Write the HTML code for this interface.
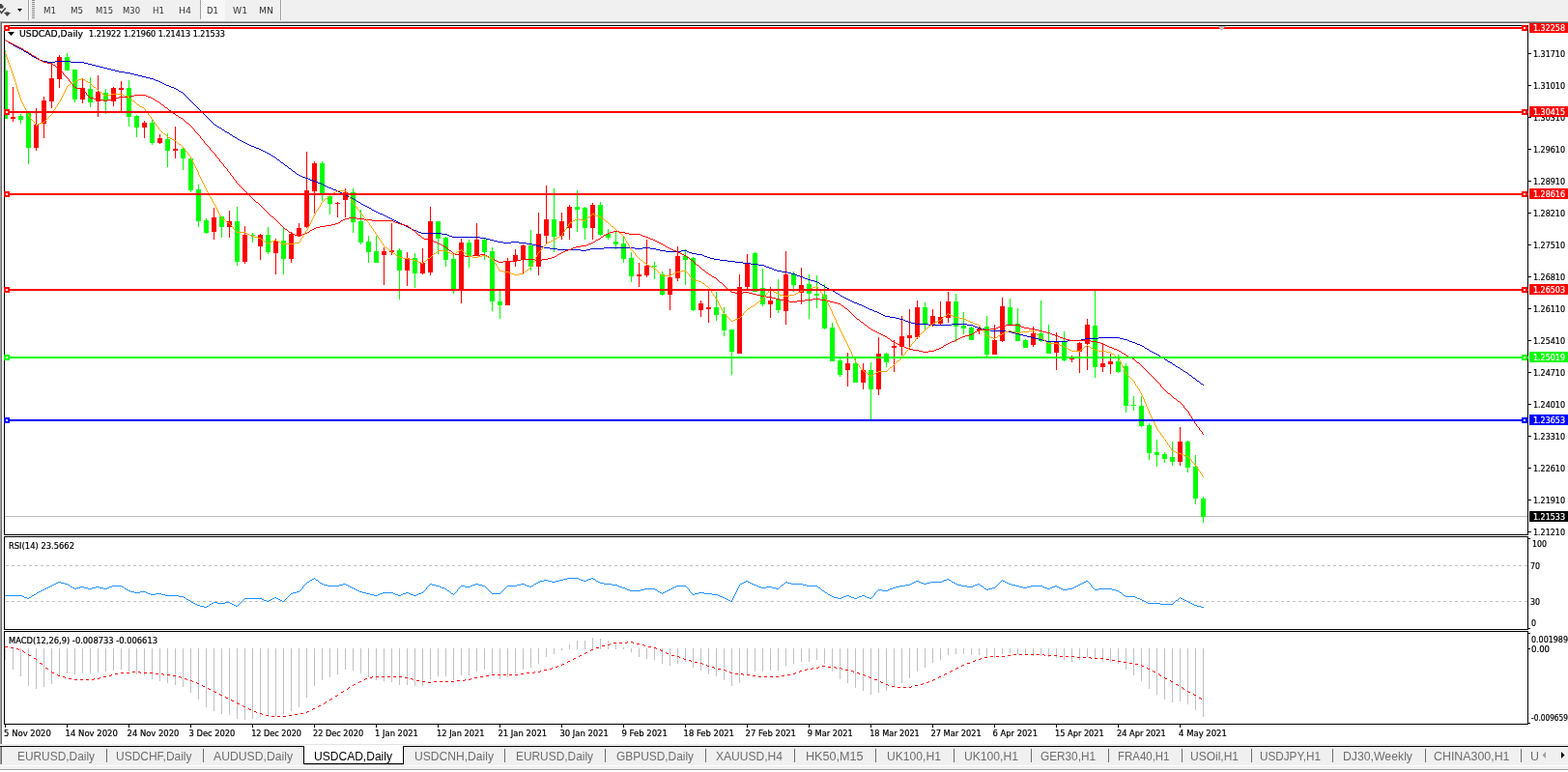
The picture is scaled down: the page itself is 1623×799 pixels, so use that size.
<!DOCTYPE html>
<html><head><meta charset="utf-8"><title>USDCAD,Daily</title>
<style>
html,body{margin:0;padding:0;background:#fff;}
body{width:1623px;height:799px;overflow:hidden;position:relative;font-family:'Liberation Sans', Arial, sans-serif;}
svg{position:absolute;left:0;top:0;display:block;}
svg text{font-family:'Liberation Sans', Arial, sans-serif;}
svg text.ax,svg text.tb{font-family:'DejaVu Sans',sans-serif;font-stretch:condensed;font-size:9.5px;}
</style></head><body>
<svg width="1623" height="799" viewBox="0 0 1623 799">
<defs>
<pattern id="dith" x="0" y="0" width="2" height="2" patternUnits="userSpaceOnUse"><rect width="2" height="2" fill="#f0f0f0"/><rect width="1" height="1" fill="#fff"/><rect x="1" y="1" width="1" height="1" fill="#fff"/></pattern>
<clipPath id="cMain"><rect x="5" y="27" width="1576" height="526"/></clipPath>
<clipPath id="cRsi"><rect x="5" y="556" width="1576" height="95"/></clipPath>
<clipPath id="cMacd"><rect x="5" y="654" width="1576" height="95"/></clipPath>
</defs>

<g shape-rendering="crispEdges">
<rect x="0" y="0" width="1623" height="21" fill="#f0f0f0"/>
<rect x="0" y="21" width="1623" height="1" fill="#f8f8f8"/>
<rect x="0" y="22" width="1623" height="1" fill="#a0a0a0"/>
<rect x="0" y="23" width="1623" height="1" fill="#696969"/>
<rect x="29" y="0" width="1" height="21" fill="#a0a0a0"/>
<rect x="30" y="0" width="1" height="21" fill="#ffffff"/>
<rect x="290" y="0" width="1" height="21" fill="#a0a0a0"/>
<rect x="291" y="0" width="1" height="21" fill="#ffffff"/>
<rect x="33" y="0" width="3" height="1" fill="#8a8a8a"/>
<rect x="33" y="2" width="3" height="1" fill="#8a8a8a"/>
<rect x="33" y="4" width="3" height="1" fill="#8a8a8a"/>
<rect x="33" y="6" width="3" height="1" fill="#8a8a8a"/>
<rect x="33" y="8" width="3" height="1" fill="#8a8a8a"/>
<rect x="33" y="10" width="3" height="1" fill="#8a8a8a"/>
<rect x="33" y="12" width="3" height="1" fill="#8a8a8a"/>
<rect x="33" y="14" width="3" height="1" fill="#8a8a8a"/>
<rect x="33" y="16" width="3" height="1" fill="#8a8a8a"/>
<rect x="33" y="18" width="3" height="1" fill="#8a8a8a"/>
<rect x="208" y="0" width="25" height="20" fill="url(#dith)"/>
<rect x="207" y="0" width="1" height="20" fill="#a0a0a0"/>
<rect x="207" y="20" width="26" height="1" fill="#ffffff"/>
</g>
<path d="M0,4 L1.5,4 L4,7 L2.5,8.8 L0,8.8 Z" fill="#444"/>
<path d="M0,11.2 L1.5,13.5 L5.8,8.3" fill="none" stroke="#444" stroke-width="1.5"/>
<path d="M4,13 L6.2,13 L6.2,12.3 L8.8,12.3 L8.8,13 L11,13 L7.5,17 Z" fill="#444"/>
<path d="M18,9 L23,9 L20.5,12 Z" fill="#000"/>
<text x="45" y="14" class="tb" fill="#333" textLength="13" lengthAdjust="spacingAndGlyphs">M1</text>
<text x="73" y="14" class="tb" fill="#333" textLength="13" lengthAdjust="spacingAndGlyphs">M5</text>
<text x="99" y="14" class="tb" fill="#333" textLength="18" lengthAdjust="spacingAndGlyphs">M15</text>
<text x="127" y="14" class="tb" fill="#333" textLength="18" lengthAdjust="spacingAndGlyphs">M30</text>
<text x="158" y="14" class="tb" fill="#333" textLength="12" lengthAdjust="spacingAndGlyphs">H1</text>
<text x="185" y="14" class="tb" fill="#333" textLength="13" lengthAdjust="spacingAndGlyphs">H4</text>
<text x="214" y="14" class="tb" fill="#333" textLength="12" lengthAdjust="spacingAndGlyphs">D1</text>
<text x="241" y="14" class="tb" fill="#333" textLength="15" lengthAdjust="spacingAndGlyphs">W1</text>
<text x="268" y="14" class="tb" fill="#333" textLength="15" lengthAdjust="spacingAndGlyphs">MN</text>
<g shape-rendering="crispEdges">
<rect x="0" y="22" width="1" height="748" fill="#a0a0a0"/>
<rect x="1" y="23" width="1" height="747" fill="#696969"/>
<rect x="4" y="26" width="1578" height="1" fill="#000"/>
<rect x="4" y="553" width="1578" height="1" fill="#000"/>
<rect x="4" y="26" width="1" height="528" fill="#000"/>
<rect x="1581" y="26" width="1" height="528" fill="#000"/>
<rect x="4" y="555" width="1578" height="1" fill="#000"/>
<rect x="4" y="651" width="1578" height="1" fill="#000"/>
<rect x="4" y="555" width="1" height="97" fill="#000"/>
<rect x="1581" y="555" width="1" height="97" fill="#000"/>
<rect x="4" y="653" width="1578" height="1" fill="#000"/>
<rect x="4" y="749" width="1578" height="1" fill="#000"/>
<rect x="4" y="653" width="1" height="97" fill="#000"/>
<rect x="1581" y="653" width="1" height="97" fill="#000"/>
</g>
<g clip-path="url(#cMain)">
<g shape-rendering="crispEdges">
<rect x="5" y="534" width="1576" height="1" fill="#c0c0c0"/>
</g>
<g shape-rendering="crispEdges">
<rect x="5" y="52" width="1" height="71" fill="#00ff00"/>
<rect x="3" y="73" width="5" height="50" fill="#00ff00"/>
<rect x="13" y="90" width="1" height="36" fill="#ff0000"/>
<rect x="11" y="121" width="5" height="2" fill="#ff0000"/>
<rect x="21" y="118" width="1" height="10" fill="#00ff00"/>
<rect x="19" y="120" width="5" height="4" fill="#00ff00"/>
<rect x="29" y="115" width="1" height="55" fill="#00ff00"/>
<rect x="27" y="117" width="5" height="36" fill="#00ff00"/>
<rect x="37" y="112" width="1" height="44" fill="#ff0000"/>
<rect x="35" y="129" width="5" height="24" fill="#ff0000"/>
<rect x="45" y="100" width="1" height="43" fill="#ff0000"/>
<rect x="43" y="104" width="5" height="24" fill="#ff0000"/>
<rect x="53" y="66" width="1" height="46" fill="#ff0000"/>
<rect x="51" y="81" width="5" height="24" fill="#ff0000"/>
<rect x="61" y="57" width="1" height="34" fill="#ff0000"/>
<rect x="59" y="59" width="5" height="23" fill="#ff0000"/>
<rect x="69" y="55" width="1" height="18" fill="#00ff00"/>
<rect x="67" y="59" width="5" height="14" fill="#00ff00"/>
<rect x="77" y="72" width="1" height="34" fill="#00ff00"/>
<rect x="75" y="72" width="5" height="31" fill="#00ff00"/>
<rect x="85" y="82" width="1" height="25" fill="#ff0000"/>
<rect x="83" y="91" width="5" height="12" fill="#ff0000"/>
<rect x="93" y="80" width="1" height="31" fill="#00ff00"/>
<rect x="91" y="92" width="5" height="14" fill="#00ff00"/>
<rect x="101" y="78" width="1" height="43" fill="#ff0000"/>
<rect x="99" y="95" width="5" height="10" fill="#ff0000"/>
<rect x="109" y="92" width="1" height="26" fill="#00ff00"/>
<rect x="107" y="96" width="5" height="8" fill="#00ff00"/>
<rect x="117" y="90" width="1" height="20" fill="#ff0000"/>
<rect x="115" y="91" width="5" height="14" fill="#ff0000"/>
<rect x="125" y="84" width="1" height="32" fill="#ff0000"/>
<rect x="123" y="91" width="5" height="2" fill="#ff0000"/>
<rect x="133" y="83" width="1" height="48" fill="#00ff00"/>
<rect x="131" y="91" width="5" height="30" fill="#00ff00"/>
<rect x="141" y="119" width="1" height="23" fill="#00ff00"/>
<rect x="139" y="120" width="5" height="12" fill="#00ff00"/>
<rect x="149" y="125" width="1" height="18" fill="#ff0000"/>
<rect x="147" y="127" width="5" height="5" fill="#ff0000"/>
<rect x="157" y="124" width="1" height="26" fill="#00ff00"/>
<rect x="155" y="127" width="5" height="21" fill="#00ff00"/>
<rect x="165" y="139" width="1" height="10" fill="#ff0000"/>
<rect x="163" y="143" width="5" height="5" fill="#ff0000"/>
<rect x="173" y="138" width="1" height="35" fill="#00ff00"/>
<rect x="171" y="144" width="5" height="12" fill="#00ff00"/>
<rect x="181" y="131" width="1" height="33" fill="#ff0000"/>
<rect x="179" y="154" width="5" height="2" fill="#ff0000"/>
<rect x="189" y="153" width="1" height="23" fill="#00ff00"/>
<rect x="187" y="154" width="5" height="10" fill="#00ff00"/>
<rect x="197" y="164" width="1" height="35" fill="#00ff00"/>
<rect x="195" y="164" width="5" height="33" fill="#00ff00"/>
<rect x="205" y="191" width="1" height="44" fill="#00ff00"/>
<rect x="203" y="196" width="5" height="33" fill="#00ff00"/>
<rect x="213" y="226" width="1" height="16" fill="#00ff00"/>
<rect x="211" y="228" width="5" height="13" fill="#00ff00"/>
<rect x="221" y="215" width="1" height="33" fill="#ff0000"/>
<rect x="219" y="225" width="5" height="15" fill="#ff0000"/>
<rect x="229" y="224" width="1" height="22" fill="#00ff00"/>
<rect x="227" y="224" width="5" height="11" fill="#00ff00"/>
<rect x="237" y="218" width="1" height="28" fill="#ff0000"/>
<rect x="235" y="229" width="5" height="6" fill="#ff0000"/>
<rect x="245" y="214" width="1" height="61" fill="#00ff00"/>
<rect x="243" y="229" width="5" height="42" fill="#00ff00"/>
<rect x="253" y="234" width="1" height="39" fill="#ff0000"/>
<rect x="251" y="243" width="5" height="28" fill="#ff0000"/>
<rect x="261" y="241" width="1" height="10" fill="#00ff00"/>
<rect x="259" y="243" width="5" height="1" fill="#00ff00"/>
<rect x="269" y="242" width="1" height="27" fill="#ff0000"/>
<rect x="267" y="243" width="5" height="12" fill="#ff0000"/>
<rect x="277" y="235" width="1" height="28" fill="#00ff00"/>
<rect x="275" y="243" width="5" height="18" fill="#00ff00"/>
<rect x="285" y="247" width="1" height="37" fill="#ff0000"/>
<rect x="283" y="249" width="5" height="13" fill="#ff0000"/>
<rect x="293" y="236" width="1" height="48" fill="#00ff00"/>
<rect x="291" y="249" width="5" height="19" fill="#00ff00"/>
<rect x="301" y="240" width="1" height="32" fill="#ff0000"/>
<rect x="299" y="242" width="5" height="26" fill="#ff0000"/>
<rect x="309" y="231" width="1" height="14" fill="#ff0000"/>
<rect x="307" y="236" width="5" height="8" fill="#ff0000"/>
<rect x="317" y="157" width="1" height="79" fill="#ff0000"/>
<rect x="315" y="197" width="5" height="38" fill="#ff0000"/>
<rect x="325" y="167" width="1" height="54" fill="#ff0000"/>
<rect x="323" y="169" width="5" height="29" fill="#ff0000"/>
<rect x="333" y="167" width="1" height="41" fill="#00ff00"/>
<rect x="331" y="169" width="5" height="31" fill="#00ff00"/>
<rect x="341" y="201" width="1" height="21" fill="#00ff00"/>
<rect x="339" y="203" width="5" height="8" fill="#00ff00"/>
<rect x="349" y="209" width="1" height="16" fill="#ff0000"/>
<rect x="347" y="210" width="5" height="1" fill="#ff0000"/>
<rect x="357" y="195" width="1" height="30" fill="#ff0000"/>
<rect x="355" y="199" width="5" height="8" fill="#ff0000"/>
<rect x="365" y="195" width="1" height="46" fill="#00ff00"/>
<rect x="363" y="199" width="5" height="31" fill="#00ff00"/>
<rect x="373" y="217" width="1" height="36" fill="#00ff00"/>
<rect x="371" y="229" width="5" height="22" fill="#00ff00"/>
<rect x="381" y="244" width="1" height="28" fill="#00ff00"/>
<rect x="379" y="250" width="5" height="11" fill="#00ff00"/>
<rect x="389" y="244" width="1" height="28" fill="#00ff00"/>
<rect x="387" y="260" width="5" height="12" fill="#00ff00"/>
<rect x="397" y="256" width="1" height="39" fill="#ff0000"/>
<rect x="395" y="260" width="5" height="4" fill="#ff0000"/>
<rect x="405" y="231" width="1" height="33" fill="#ff0000"/>
<rect x="403" y="259" width="5" height="2" fill="#ff0000"/>
<rect x="413" y="257" width="1" height="53" fill="#00ff00"/>
<rect x="411" y="259" width="5" height="21" fill="#00ff00"/>
<rect x="421" y="261" width="1" height="35" fill="#ff0000"/>
<rect x="419" y="267" width="5" height="13" fill="#ff0000"/>
<rect x="429" y="262" width="1" height="36" fill="#00ff00"/>
<rect x="427" y="267" width="5" height="16" fill="#00ff00"/>
<rect x="437" y="257" width="1" height="27" fill="#ff0000"/>
<rect x="435" y="272" width="5" height="11" fill="#ff0000"/>
<rect x="445" y="214" width="1" height="71" fill="#ff0000"/>
<rect x="443" y="229" width="5" height="53" fill="#ff0000"/>
<rect x="453" y="229" width="1" height="34" fill="#00ff00"/>
<rect x="451" y="229" width="5" height="18" fill="#00ff00"/>
<rect x="461" y="245" width="1" height="31" fill="#00ff00"/>
<rect x="459" y="246" width="5" height="23" fill="#00ff00"/>
<rect x="469" y="264" width="1" height="40" fill="#00ff00"/>
<rect x="467" y="268" width="5" height="31" fill="#00ff00"/>
<rect x="477" y="247" width="1" height="67" fill="#ff0000"/>
<rect x="475" y="251" width="5" height="48" fill="#ff0000"/>
<rect x="485" y="248" width="1" height="29" fill="#00ff00"/>
<rect x="483" y="251" width="5" height="14" fill="#00ff00"/>
<rect x="493" y="231" width="1" height="34" fill="#ff0000"/>
<rect x="491" y="248" width="5" height="17" fill="#ff0000"/>
<rect x="501" y="247" width="1" height="22" fill="#00ff00"/>
<rect x="499" y="248" width="5" height="13" fill="#00ff00"/>
<rect x="509" y="256" width="1" height="66" fill="#00ff00"/>
<rect x="507" y="260" width="5" height="52" fill="#00ff00"/>
<rect x="517" y="301" width="1" height="29" fill="#00ff00"/>
<rect x="515" y="312" width="5" height="4" fill="#00ff00"/>
<rect x="525" y="267" width="1" height="49" fill="#ff0000"/>
<rect x="523" y="270" width="5" height="46" fill="#ff0000"/>
<rect x="533" y="258" width="1" height="18" fill="#ff0000"/>
<rect x="531" y="264" width="5" height="6" fill="#ff0000"/>
<rect x="541" y="253" width="1" height="30" fill="#ff0000"/>
<rect x="539" y="254" width="5" height="14" fill="#ff0000"/>
<rect x="549" y="238" width="1" height="42" fill="#00ff00"/>
<rect x="547" y="254" width="5" height="22" fill="#00ff00"/>
<rect x="557" y="220" width="1" height="65" fill="#ff0000"/>
<rect x="555" y="242" width="5" height="34" fill="#ff0000"/>
<rect x="565" y="192" width="1" height="61" fill="#ff0000"/>
<rect x="563" y="227" width="5" height="17" fill="#ff0000"/>
<rect x="573" y="195" width="1" height="66" fill="#00ff00"/>
<rect x="571" y="227" width="5" height="18" fill="#00ff00"/>
<rect x="581" y="220" width="1" height="28" fill="#ff0000"/>
<rect x="579" y="229" width="5" height="15" fill="#ff0000"/>
<rect x="589" y="212" width="1" height="36" fill="#ff0000"/>
<rect x="587" y="214" width="5" height="22" fill="#ff0000"/>
<rect x="597" y="197" width="1" height="43" fill="#00ff00"/>
<rect x="595" y="214" width="5" height="3" fill="#00ff00"/>
<rect x="605" y="214" width="1" height="34" fill="#00ff00"/>
<rect x="603" y="215" width="5" height="21" fill="#00ff00"/>
<rect x="613" y="210" width="1" height="38" fill="#ff0000"/>
<rect x="611" y="212" width="5" height="24" fill="#ff0000"/>
<rect x="621" y="209" width="1" height="35" fill="#00ff00"/>
<rect x="619" y="212" width="5" height="31" fill="#00ff00"/>
<rect x="629" y="237" width="1" height="11" fill="#00ff00"/>
<rect x="627" y="242" width="5" height="4" fill="#00ff00"/>
<rect x="637" y="239" width="1" height="19" fill="#00ff00"/>
<rect x="635" y="250" width="5" height="3" fill="#00ff00"/>
<rect x="645" y="244" width="1" height="28" fill="#00ff00"/>
<rect x="643" y="252" width="5" height="16" fill="#00ff00"/>
<rect x="653" y="261" width="1" height="31" fill="#00ff00"/>
<rect x="651" y="267" width="5" height="19" fill="#00ff00"/>
<rect x="661" y="272" width="1" height="25" fill="#ff0000"/>
<rect x="659" y="284" width="5" height="2" fill="#ff0000"/>
<rect x="669" y="248" width="1" height="39" fill="#ff0000"/>
<rect x="667" y="275" width="5" height="10" fill="#ff0000"/>
<rect x="677" y="271" width="1" height="18" fill="#00ff00"/>
<rect x="675" y="275" width="5" height="1" fill="#00ff00"/>
<rect x="685" y="281" width="1" height="25" fill="#00ff00"/>
<rect x="683" y="284" width="5" height="21" fill="#00ff00"/>
<rect x="693" y="278" width="1" height="43" fill="#ff0000"/>
<rect x="691" y="287" width="5" height="18" fill="#ff0000"/>
<rect x="701" y="255" width="1" height="36" fill="#ff0000"/>
<rect x="699" y="265" width="5" height="23" fill="#ff0000"/>
<rect x="709" y="258" width="1" height="37" fill="#00ff00"/>
<rect x="707" y="265" width="5" height="4" fill="#00ff00"/>
<rect x="717" y="266" width="1" height="56" fill="#00ff00"/>
<rect x="715" y="267" width="5" height="54" fill="#00ff00"/>
<rect x="725" y="311" width="1" height="17" fill="#ff0000"/>
<rect x="723" y="314" width="5" height="7" fill="#ff0000"/>
<rect x="733" y="299" width="1" height="35" fill="#ff0000"/>
<rect x="731" y="318" width="5" height="2" fill="#ff0000"/>
<rect x="741" y="302" width="1" height="30" fill="#00ff00"/>
<rect x="739" y="318" width="5" height="8" fill="#00ff00"/>
<rect x="749" y="318" width="1" height="30" fill="#00ff00"/>
<rect x="747" y="325" width="5" height="17" fill="#00ff00"/>
<rect x="757" y="341" width="1" height="47" fill="#00ff00"/>
<rect x="755" y="341" width="5" height="23" fill="#00ff00"/>
<rect x="765" y="284" width="1" height="82" fill="#ff0000"/>
<rect x="763" y="297" width="5" height="69" fill="#ff0000"/>
<rect x="773" y="263" width="1" height="36" fill="#ff0000"/>
<rect x="771" y="272" width="5" height="25" fill="#ff0000"/>
<rect x="781" y="261" width="1" height="41" fill="#00ff00"/>
<rect x="779" y="262" width="5" height="40" fill="#00ff00"/>
<rect x="789" y="278" width="1" height="39" fill="#00ff00"/>
<rect x="787" y="298" width="5" height="17" fill="#00ff00"/>
<rect x="797" y="297" width="1" height="32" fill="#ff0000"/>
<rect x="795" y="311" width="5" height="4" fill="#ff0000"/>
<rect x="805" y="289" width="1" height="35" fill="#00ff00"/>
<rect x="803" y="310" width="5" height="11" fill="#00ff00"/>
<rect x="813" y="260" width="1" height="76" fill="#ff0000"/>
<rect x="811" y="284" width="5" height="38" fill="#ff0000"/>
<rect x="821" y="281" width="1" height="21" fill="#00ff00"/>
<rect x="819" y="284" width="5" height="11" fill="#00ff00"/>
<rect x="829" y="277" width="1" height="38" fill="#ff0000"/>
<rect x="827" y="295" width="5" height="8" fill="#ff0000"/>
<rect x="837" y="284" width="1" height="46" fill="#00ff00"/>
<rect x="835" y="294" width="5" height="10" fill="#00ff00"/>
<rect x="845" y="285" width="1" height="34" fill="#00ff00"/>
<rect x="843" y="304" width="5" height="2" fill="#00ff00"/>
<rect x="853" y="294" width="1" height="47" fill="#00ff00"/>
<rect x="851" y="305" width="5" height="35" fill="#00ff00"/>
<rect x="861" y="334" width="1" height="40" fill="#00ff00"/>
<rect x="859" y="339" width="5" height="35" fill="#00ff00"/>
<rect x="869" y="371" width="1" height="19" fill="#00ff00"/>
<rect x="867" y="373" width="5" height="15" fill="#00ff00"/>
<rect x="877" y="365" width="1" height="35" fill="#ff0000"/>
<rect x="875" y="376" width="5" height="7" fill="#ff0000"/>
<rect x="885" y="369" width="1" height="27" fill="#00ff00"/>
<rect x="883" y="376" width="5" height="20" fill="#00ff00"/>
<rect x="893" y="376" width="1" height="27" fill="#ff0000"/>
<rect x="891" y="383" width="5" height="13" fill="#ff0000"/>
<rect x="901" y="375" width="1" height="59" fill="#00ff00"/>
<rect x="899" y="383" width="5" height="20" fill="#00ff00"/>
<rect x="909" y="349" width="1" height="60" fill="#ff0000"/>
<rect x="907" y="366" width="5" height="37" fill="#ff0000"/>
<rect x="917" y="365" width="1" height="15" fill="#00ff00"/>
<rect x="915" y="366" width="5" height="9" fill="#00ff00"/>
<rect x="925" y="352" width="1" height="33" fill="#ff0000"/>
<rect x="923" y="358" width="5" height="2" fill="#ff0000"/>
<rect x="933" y="327" width="1" height="41" fill="#ff0000"/>
<rect x="931" y="348" width="5" height="11" fill="#ff0000"/>
<rect x="941" y="320" width="1" height="42" fill="#ff0000"/>
<rect x="939" y="347" width="5" height="3" fill="#ff0000"/>
<rect x="949" y="311" width="1" height="40" fill="#ff0000"/>
<rect x="947" y="318" width="5" height="31" fill="#ff0000"/>
<rect x="957" y="313" width="1" height="28" fill="#00ff00"/>
<rect x="955" y="318" width="5" height="17" fill="#00ff00"/>
<rect x="965" y="320" width="1" height="18" fill="#ff0000"/>
<rect x="963" y="327" width="5" height="9" fill="#ff0000"/>
<rect x="973" y="312" width="1" height="24" fill="#ff0000"/>
<rect x="971" y="328" width="5" height="7" fill="#ff0000"/>
<rect x="981" y="302" width="1" height="32" fill="#ff0000"/>
<rect x="979" y="312" width="5" height="17" fill="#ff0000"/>
<rect x="989" y="304" width="1" height="50" fill="#00ff00"/>
<rect x="987" y="312" width="5" height="26" fill="#00ff00"/>
<rect x="997" y="323" width="1" height="23" fill="#00ff00"/>
<rect x="995" y="337" width="5" height="3" fill="#00ff00"/>
<rect x="1005" y="338" width="1" height="14" fill="#00ff00"/>
<rect x="1003" y="339" width="5" height="13" fill="#00ff00"/>
<rect x="1013" y="338" width="1" height="8" fill="#ff0000"/>
<rect x="1011" y="340" width="5" height="2" fill="#ff0000"/>
<rect x="1021" y="327" width="1" height="42" fill="#00ff00"/>
<rect x="1019" y="338" width="5" height="29" fill="#00ff00"/>
<rect x="1029" y="336" width="1" height="31" fill="#ff0000"/>
<rect x="1027" y="352" width="5" height="15" fill="#ff0000"/>
<rect x="1037" y="308" width="1" height="46" fill="#ff0000"/>
<rect x="1035" y="317" width="5" height="36" fill="#ff0000"/>
<rect x="1045" y="309" width="1" height="27" fill="#00ff00"/>
<rect x="1043" y="318" width="5" height="18" fill="#00ff00"/>
<rect x="1053" y="319" width="1" height="34" fill="#00ff00"/>
<rect x="1051" y="335" width="5" height="18" fill="#00ff00"/>
<rect x="1061" y="351" width="1" height="9" fill="#00ff00"/>
<rect x="1059" y="352" width="5" height="8" fill="#00ff00"/>
<rect x="1069" y="338" width="1" height="21" fill="#ff0000"/>
<rect x="1067" y="345" width="5" height="12" fill="#ff0000"/>
<rect x="1077" y="311" width="1" height="43" fill="#00ff00"/>
<rect x="1075" y="345" width="5" height="8" fill="#00ff00"/>
<rect x="1085" y="336" width="1" height="30" fill="#00ff00"/>
<rect x="1083" y="353" width="5" height="13" fill="#00ff00"/>
<rect x="1093" y="344" width="1" height="39" fill="#ff0000"/>
<rect x="1091" y="354" width="5" height="11" fill="#ff0000"/>
<rect x="1101" y="343" width="1" height="31" fill="#00ff00"/>
<rect x="1099" y="354" width="5" height="19" fill="#00ff00"/>
<rect x="1109" y="368" width="1" height="7" fill="#ff0000"/>
<rect x="1107" y="370" width="5" height="2" fill="#ff0000"/>
<rect x="1117" y="354" width="1" height="32" fill="#ff0000"/>
<rect x="1115" y="355" width="5" height="9" fill="#ff0000"/>
<rect x="1125" y="330" width="1" height="53" fill="#ff0000"/>
<rect x="1123" y="336" width="5" height="20" fill="#ff0000"/>
<rect x="1133" y="301" width="1" height="90" fill="#00ff00"/>
<rect x="1131" y="337" width="5" height="43" fill="#00ff00"/>
<rect x="1141" y="355" width="1" height="30" fill="#ff0000"/>
<rect x="1139" y="376" width="5" height="4" fill="#ff0000"/>
<rect x="1149" y="366" width="1" height="21" fill="#ff0000"/>
<rect x="1147" y="374" width="5" height="3" fill="#ff0000"/>
<rect x="1157" y="367" width="1" height="19" fill="#00ff00"/>
<rect x="1155" y="374" width="5" height="11" fill="#00ff00"/>
<rect x="1165" y="376" width="1" height="51" fill="#00ff00"/>
<rect x="1163" y="379" width="5" height="41" fill="#00ff00"/>
<rect x="1173" y="410" width="1" height="15" fill="#00ff00"/>
<rect x="1171" y="419" width="5" height="1" fill="#00ff00"/>
<rect x="1181" y="410" width="1" height="32" fill="#00ff00"/>
<rect x="1179" y="420" width="5" height="21" fill="#00ff00"/>
<rect x="1189" y="438" width="1" height="38" fill="#00ff00"/>
<rect x="1187" y="440" width="5" height="29" fill="#00ff00"/>
<rect x="1197" y="455" width="1" height="28" fill="#00ff00"/>
<rect x="1195" y="468" width="5" height="3" fill="#00ff00"/>
<rect x="1205" y="468" width="1" height="11" fill="#00ff00"/>
<rect x="1203" y="470" width="5" height="5" fill="#00ff00"/>
<rect x="1213" y="457" width="1" height="25" fill="#00ff00"/>
<rect x="1211" y="473" width="5" height="5" fill="#00ff00"/>
<rect x="1221" y="442" width="1" height="40" fill="#ff0000"/>
<rect x="1219" y="457" width="5" height="21" fill="#ff0000"/>
<rect x="1229" y="456" width="1" height="33" fill="#00ff00"/>
<rect x="1227" y="457" width="5" height="27" fill="#00ff00"/>
<rect x="1237" y="471" width="1" height="51" fill="#00ff00"/>
<rect x="1235" y="483" width="5" height="33" fill="#00ff00"/>
<rect x="1245" y="514" width="1" height="27" fill="#00ff00"/>
<rect x="1243" y="516" width="5" height="19" fill="#00ff00"/>
</g>
<path d="M6 42h2v1h-2zM9 44h2v1h-2zM11 45h2v1h-2zM14 47h2v1h-2zM16 48h2v1h-2zM18 49h2v1h-2zM20 50h2v1h-2zM22 51h2v1h-2zM25 53h2v1h-2zM27 54h2v1h-2zM30 56h2v1h-2zM33 58h2v1h-2zM35 59h2v1h-2zM37 60h2v1h-2zM39 61h2v1h-2zM41 62h3v1h-3zM44 63h5v1h-5zM57 63h16v1h-16zM49 64h8v1h-8zM73 64h14v1h-14zM87 65h4v1h-4zM91 66h4v1h-4zM95 67h4v1h-4zM99 68h4v1h-4zM103 69h4v1h-4zM107 70h4v1h-4zM111 71h4v1h-4zM115 72h4v1h-4zM119 73h4v1h-4zM123 74h6v1h-6zM129 75h6v1h-6zM135 76h4v1h-4zM139 77h4v1h-4zM143 78h4v1h-4zM147 79h4v1h-4zM151 80h4v1h-4zM155 81h4v1h-4zM159 82h2v1h-2zM161 83h3v1h-3zM164 84h2v1h-2zM166 85h2v1h-2zM168 86h2v1h-2zM170 87h2v1h-2zM172 88h3v1h-3zM175 89h2v1h-2zM177 90h3v1h-3zM180 91h2v1h-2zM182 92h2v1h-2zM185 94h2v1h-2zM187 95h2v1h-2zM222 129h2v1h-2zM225 131h2v1h-2zM227 132h2v1h-2zM230 134h2v1h-2zM233 136h2v1h-2zM235 137h2v1h-2zM238 139h2v1h-2zM241 141h2v1h-2zM243 142h2v1h-2zM246 144h2v1h-2zM248 145h2v1h-2zM250 146h2v1h-2zM252 147h2v1h-2zM254 148h2v1h-2zM256 149h2v1h-2zM258 150h2v1h-2zM260 151h3v1h-3zM263 152h2v1h-2zM265 153h3v1h-3zM268 154h2v1h-2zM270 155h2v1h-2zM272 156h2v1h-2zM274 157h2v1h-2zM276 158h2v1h-2zM278 159h2v1h-2zM281 161h2v1h-2zM283 162h2v1h-2zM287 165h2v1h-2zM291 168h2v1h-2zM295 171h2v1h-2zM299 174h2v1h-2zM303 177h2v1h-2zM307 180h2v1h-2zM309 181h2v1h-2zM311 182h2v1h-2zM313 183h3v1h-3zM316 184h3v1h-3zM319 185h2v1h-2zM321 186h3v1h-3zM324 187h3v1h-3zM327 188h2v1h-2zM329 189h3v1h-3zM332 190h2v1h-2zM334 191h2v1h-2zM336 192h2v1h-2zM338 193h2v1h-2zM340 194h3v1h-3zM343 195h2v1h-2zM345 196h3v1h-3zM348 197h2v1h-2zM350 198h2v1h-2zM352 199h2v1h-2zM354 200h2v1h-2zM356 201h2v1h-2zM358 202h2v1h-2zM360 203h2v1h-2zM362 204h2v1h-2zM364 205h2v1h-2zM366 206h2v1h-2zM369 208h2v1h-2zM371 209h2v1h-2zM374 211h2v1h-2zM376 212h2v1h-2zM378 213h2v1h-2zM380 214h2v1h-2zM382 215h2v1h-2zM385 217h2v1h-2zM387 218h2v1h-2zM389 219h2v1h-2zM391 220h2v1h-2zM393 221h3v1h-3zM396 222h2v1h-2zM398 223h2v1h-2zM400 224h2v1h-2zM402 225h2v1h-2zM404 226h2v1h-2zM406 227h2v1h-2zM408 228h2v1h-2zM410 229h2v1h-2zM412 230h2v1h-2zM414 231h2v1h-2zM416 232h2v1h-2zM418 233h2v1h-2zM420 234h2v1h-2zM422 235h2v1h-2zM424 236h2v1h-2zM426 237h2v1h-2zM428 238h3v1h-3zM431 239h2v1h-2zM433 240h3v1h-3zM436 241h21v1h-21zM457 242h6v1h-6zM463 243h2v1h-2zM465 244h3v1h-3zM468 245h29v1h-29zM497 246h6v1h-6zM503 247h4v1h-4zM507 248h4v1h-4zM511 249h4v1h-4zM515 250h6v1h-6zM529 250h8v1h-8zM521 251h8v1h-8zM537 251h8v1h-8zM545 252h6v1h-6zM551 253h4v1h-4zM555 254h4v1h-4zM559 255h4v1h-4zM563 256h6v1h-6zM625 256h32v1h-32zM665 256h8v1h-8zM569 257h8v1h-8zM611 257h14v1h-14zM657 257h8v1h-8zM673 257h6v1h-6zM577 258h24v1h-24zM607 258h4v1h-4zM679 258h4v1h-4zM601 259h6v1h-6zM683 259h6v1h-6zM705 259h6v1h-6zM689 260h16v1h-16zM711 260h2v1h-2zM713 261h3v1h-3zM716 262h5v1h-5zM721 263h6v1h-6zM727 264h2v1h-2zM729 265h3v1h-3zM732 266h3v1h-3zM735 267h4v1h-4zM739 268h6v1h-6zM745 269h8v1h-8zM753 270h8v1h-8zM761 271h8v1h-8zM769 272h8v1h-8zM777 273h8v1h-8zM785 274h6v1h-6zM791 275h2v1h-2zM793 276h3v1h-3zM796 277h3v1h-3zM799 278h2v1h-2zM801 279h3v1h-3zM804 280h5v1h-5zM809 281h6v1h-6zM815 282h4v1h-4zM819 283h4v1h-4zM823 284h2v1h-2zM825 285h3v1h-3zM828 286h3v1h-3zM831 287h2v1h-2zM833 288h3v1h-3zM836 289h3v1h-3zM839 290h4v1h-4zM843 291h3v1h-3zM846 292h2v1h-2zM849 294h2v1h-2zM851 295h2v1h-2zM854 297h2v1h-2zM856 298h2v1h-2zM858 299h2v1h-2zM860 300h2v1h-2zM862 301h2v1h-2zM865 303h2v1h-2zM867 304h2v1h-2zM870 306h2v1h-2zM872 307h2v1h-2zM874 308h2v1h-2zM876 309h2v1h-2zM878 310h2v1h-2zM880 311h2v1h-2zM882 312h2v1h-2zM884 313h3v1h-3zM887 314h2v1h-2zM889 315h3v1h-3zM892 316h2v1h-2zM894 317h2v1h-2zM896 318h2v1h-2zM898 319h2v1h-2zM900 320h3v1h-3zM903 321h2v1h-2zM905 322h3v1h-3zM908 323h2v1h-2zM910 324h2v1h-2zM912 325h2v1h-2zM914 326h2v1h-2zM916 327h5v1h-5zM921 328h6v1h-6zM927 329h4v1h-4zM931 330h4v1h-4zM935 331h2v1h-2zM937 332h3v1h-3zM940 333h3v1h-3zM943 334h4v1h-4zM947 335h14v1h-14zM985 335h16v1h-16zM961 336h24v1h-24zM1001 336h6v1h-6zM1007 337h2v1h-2zM1009 338h3v1h-3zM1012 339h3v1h-3zM1015 340h4v1h-4zM1019 341h6v1h-6zM1025 342h16v1h-16zM1041 343h6v1h-6zM1047 344h4v1h-4zM1051 345h4v1h-4zM1055 346h4v1h-4zM1059 347h4v1h-4zM1063 348h4v1h-4zM1067 349h4v1h-4zM1137 349h22v1h-22zM1071 350h4v1h-4zM1123 350h14v1h-14zM1159 350h4v1h-4zM1075 351h4v1h-4zM1119 351h4v1h-4zM1163 351h4v1h-4zM1079 352h4v1h-4zM1105 352h14v1h-14zM1167 352h2v1h-2zM1083 353h22v1h-22zM1169 353h3v1h-3zM1172 354h3v1h-3zM1175 355h2v1h-2zM1177 356h3v1h-3zM1180 357h2v1h-2zM1182 358h2v1h-2zM1185 360h2v1h-2zM1187 361h2v1h-2zM1190 363h2v1h-2zM1192 364h2v1h-2zM1194 365h2v1h-2zM1196 366h2v1h-2zM1198 367h2v1h-2zM1201 369h2v1h-2zM1203 370h2v1h-2zM1206 372h2v1h-2zM1209 374h2v1h-2zM1211 375h2v1h-2zM1214 377h2v1h-2zM1217 379h2v1h-2zM1219 380h2v1h-2zM1222 382h2v1h-2zM1225 384h2v1h-2zM1227 385h2v1h-2zM1231 388h2v1h-2zM1235 391h2v1h-2zM1239 394h2v1h-2zM1243 397h2v1h-2zM5 41h1v1h-1zM8 43h1v1h-1zM13 46h1v1h-1zM24 52h1v1h-1zM29 55h1v1h-1zM32 57h1v1h-1zM184 93h1v1h-1zM189 96h1v1h-1zM190 97h1v1h-1zM191 98h1v1h-1zM192 99h1v1h-1zM193 100h1v1h-1zM194 101h1v1h-1zM195 102h1v1h-1zM196 103h1v1h-1zM197 104h1v1h-1zM198 105h1v1h-1zM199 106h1v1h-1zM200 107h1v1h-1zM201 108h1v1h-1zM202 109h1v1h-1zM203 110h1v1h-1zM204 111h1v1h-1zM205 112h1v1h-1zM206 113h1v1h-1zM207 114h1v1h-1zM208 115h1v1h-1zM209 116h1v1h-1zM210 117h1v1h-1zM211 118h1v1h-1zM212 119h1v1h-1zM213 120h1v1h-1zM214 121h1v1h-1zM215 122h1v1h-1zM216 123h1v1h-1zM217 124h1v1h-1zM218 125h1v1h-1zM219 126h1v1h-1zM220 127h1v1h-1zM221 128h1v1h-1zM224 130h1v1h-1zM229 133h1v1h-1zM232 135h1v1h-1zM237 138h1v1h-1zM240 140h1v1h-1zM245 143h1v1h-1zM280 160h1v1h-1zM285 163h1v1h-1zM286 164h1v1h-1zM289 166h1v1h-1zM290 167h1v1h-1zM293 169h1v1h-1zM294 170h1v1h-1zM297 172h1v1h-1zM298 173h1v1h-1zM301 175h1v1h-1zM302 176h1v1h-1zM305 178h1v1h-1zM306 179h1v1h-1zM368 207h1v1h-1zM373 210h1v1h-1zM384 216h1v1h-1zM848 293h1v1h-1zM853 296h1v1h-1zM864 302h1v1h-1zM869 305h1v1h-1zM1184 359h1v1h-1zM1189 362h1v1h-1zM1200 368h1v1h-1zM1205 371h1v1h-1zM1208 373h1v1h-1zM1213 376h1v1h-1zM1216 378h1v1h-1zM1221 381h1v1h-1zM1224 383h1v1h-1zM1229 386h1v1h-1zM1230 387h1v1h-1zM1233 389h1v1h-1zM1234 390h1v1h-1zM1237 392h1v1h-1zM1238 393h1v1h-1zM1241 395h1v1h-1zM1242 396h1v1h-1zM1245 398h1v1h-1z" fill="#0000cd" shape-rendering="crispEdges"/>
<path d="M6 42h2v1h-2zM8 43h2v1h-2zM10 44h2v1h-2zM12 45h2v1h-2zM14 46h2v1h-2zM16 47h2v1h-2zM18 48h2v1h-2zM20 49h2v1h-2zM22 50h2v1h-2zM25 52h2v1h-2zM27 53h2v1h-2zM30 55h2v1h-2zM33 57h2v1h-2zM35 58h2v1h-2zM38 60h2v1h-2zM41 62h2v1h-2zM43 63h2v1h-2zM45 64h4v1h-4zM49 65h5v1h-5zM55 67h2v1h-2zM59 70h2v1h-2zM77 90h2v1h-2zM79 91h4v1h-4zM83 92h3v1h-3zM139 98h12v1h-12zM135 99h4v1h-4zM151 99h2v1h-2zM123 100h12v1h-12zM153 100h3v1h-3zM93 101h4v1h-4zM119 101h4v1h-4zM156 101h2v1h-2zM97 102h6v1h-6zM115 102h4v1h-4zM158 102h2v1h-2zM103 103h4v1h-4zM111 103h4v1h-4zM107 104h4v1h-4zM161 104h2v1h-2zM163 105h2v1h-2zM167 108h2v1h-2zM171 111h2v1h-2zM175 114h2v1h-2zM179 117h2v1h-2zM182 119h2v1h-2zM185 121h2v1h-2zM187 122h2v1h-2zM193 127h2v1h-2zM265 209h2v1h-2zM281 224h2v1h-2zM361 225h8v1h-8zM357 226h4v1h-4zM369 226h8v1h-8zM355 227h2v1h-2zM377 227h8v1h-8zM353 228h2v1h-2zM385 228h22v1h-22zM407 229h2v1h-2zM350 230h2v1h-2zM409 230h3v1h-3zM347 231h3v1h-3zM412 231h3v1h-3zM343 232h4v1h-4zM415 232h4v1h-4zM337 233h6v1h-6zM419 233h3v1h-3zM331 234h6v1h-6zM327 235h4v1h-4zM423 235h2v1h-2zM325 236h2v1h-2zM295 237h2v1h-2zM323 237h2v1h-2zM321 238h2v1h-2zM427 238h2v1h-2zM635 239h6v1h-6zM299 240h2v1h-2zM318 240h2v1h-2zM631 240h4v1h-4zM641 240h6v1h-6zM301 241h2v1h-2zM316 241h2v1h-2zM629 241h2v1h-2zM647 241h4v1h-4zM303 242h2v1h-2zM313 242h3v1h-3zM627 242h2v1h-2zM651 242h12v1h-12zM305 243h3v1h-3zM311 243h2v1h-2zM433 243h2v1h-2zM625 243h2v1h-2zM663 243h2v1h-2zM308 244h3v1h-3zM665 244h3v1h-3zM622 245h2v1h-2zM668 245h3v1h-3zM437 246h2v1h-2zM671 246h2v1h-2zM439 247h4v1h-4zM619 247h2v1h-2zM673 247h3v1h-3zM443 248h4v1h-4zM617 248h2v1h-2zM676 248h2v1h-2zM447 249h2v1h-2zM678 249h2v1h-2zM449 250h3v1h-3zM614 250h2v1h-2zM680 250h2v1h-2zM452 251h2v1h-2zM612 251h2v1h-2zM682 251h2v1h-2zM454 252h2v1h-2zM609 252h3v1h-3zM684 252h2v1h-2zM456 253h2v1h-2zM607 253h2v1h-2zM686 253h2v1h-2zM458 254h2v1h-2zM601 254h6v1h-6zM460 255h2v1h-2zM596 255h5v1h-5zM689 255h2v1h-2zM593 256h3v1h-3zM691 256h2v1h-2zM591 257h2v1h-2zM693 257h2v1h-2zM588 258h3v1h-3zM695 258h2v1h-2zM465 259h2v1h-2zM585 259h3v1h-3zM697 259h3v1h-3zM583 260h2v1h-2zM700 260h2v1h-2zM581 261h2v1h-2zM702 261h2v1h-2zM469 262h2v1h-2zM579 262h2v1h-2zM704 262h2v1h-2zM471 263h4v1h-4zM497 263h5v1h-5zM577 263h2v1h-2zM706 263h2v1h-2zM475 264h6v1h-6zM489 264h8v1h-8zM502 264h2v1h-2zM708 264h2v1h-2zM481 265h8v1h-8zM504 265h2v1h-2zM574 265h2v1h-2zM506 266h2v1h-2zM571 266h3v1h-3zM711 266h2v1h-2zM508 267h2v1h-2zM567 267h4v1h-4zM510 268h2v1h-2zM539 268h14v1h-14zM561 268h6v1h-6zM512 269h2v1h-2zM535 269h4v1h-4zM553 269h8v1h-8zM715 269h2v1h-2zM514 270h2v1h-2zM521 270h14v1h-14zM516 271h5v1h-5zM721 274h2v1h-2zM727 279h2v1h-2zM731 282h2v1h-2zM734 284h2v1h-2zM737 286h2v1h-2zM739 287h2v1h-2zM745 292h2v1h-2zM753 299h2v1h-2zM757 302h4v1h-4zM769 302h6v1h-6zM761 303h8v1h-8zM775 303h4v1h-4zM779 304h4v1h-4zM783 305h4v1h-4zM787 306h6v1h-6zM793 307h6v1h-6zM799 308h4v1h-4zM803 309h4v1h-4zM841 309h8v1h-8zM807 310h4v1h-4zM833 310h8v1h-8zM849 310h6v1h-6zM811 311h6v1h-6zM825 311h8v1h-8zM855 311h4v1h-4zM817 312h8v1h-8zM859 312h4v1h-4zM863 313h4v1h-4zM867 314h3v1h-3zM871 316h2v1h-2zM875 319h2v1h-2zM887 330h2v1h-2zM891 333h2v1h-2zM895 336h2v1h-2zM1041 336h14v1h-14zM1036 337h5v1h-5zM1055 337h2v1h-2zM1033 338h3v1h-3zM1057 338h3v1h-3zM899 339h2v1h-2zM1031 339h2v1h-2zM1060 339h5v1h-5zM1025 340h6v1h-6zM1065 340h6v1h-6zM902 341h2v1h-2zM1013 341h12v1h-12zM1071 341h4v1h-4zM904 342h2v1h-2zM1011 342h2v1h-2zM1075 342h4v1h-4zM906 343h2v1h-2zM1009 343h2v1h-2zM1079 343h4v1h-4zM908 344h2v1h-2zM1083 344h4v1h-4zM910 345h2v1h-2zM1006 345h2v1h-2zM1087 345h2v1h-2zM912 346h2v1h-2zM1003 346h3v1h-3zM1089 346h3v1h-3zM914 347h2v1h-2zM999 347h4v1h-4zM1092 347h3v1h-3zM916 348h2v1h-2zM996 348h3v1h-3zM1095 348h2v1h-2zM994 349h2v1h-2zM1097 349h3v1h-3zM919 350h2v1h-2zM992 350h2v1h-2zM1100 350h3v1h-3zM990 351h2v1h-2zM1103 351h4v1h-4zM988 352h2v1h-2zM1107 352h22v1h-22zM923 353h2v1h-2zM985 353h3v1h-3zM1129 353h6v1h-6zM925 354h2v1h-2zM983 354h2v1h-2zM1135 354h4v1h-4zM927 355h2v1h-2zM981 355h2v1h-2zM1139 355h3v1h-3zM929 356h3v1h-3zM979 356h2v1h-2zM1142 356h2v1h-2zM932 357h2v1h-2zM977 357h2v1h-2zM1144 357h2v1h-2zM934 358h2v1h-2zM1146 358h2v1h-2zM936 359h2v1h-2zM974 359h2v1h-2zM1148 359h3v1h-3zM938 360h2v1h-2zM972 360h2v1h-2zM1151 360h2v1h-2zM940 361h5v1h-5zM969 361h3v1h-3zM1153 361h3v1h-3zM945 362h6v1h-6zM967 362h2v1h-2zM1156 362h2v1h-2zM951 363h4v1h-4zM961 363h6v1h-6zM1158 363h2v1h-2zM955 364h6v1h-6zM1161 365h2v1h-2zM1163 366h2v1h-2zM1166 368h2v1h-2zM1168 369h2v1h-2zM1170 370h2v1h-2zM1172 371h2v1h-2zM1177 375h2v1h-2zM1209 407h2v1h-2zM1215 412h2v1h-2zM1219 415h2v1h-2zM5 41h1v1h-1zM24 51h1v1h-1zM29 54h1v1h-1zM32 56h1v1h-1zM37 59h1v1h-1zM40 61h1v1h-1zM54 66h1v1h-1zM57 68h1v1h-1zM58 69h1v1h-1zM61 71h1v1h-1zM62 72h1v1h-1zM63 73h1v1h-1zM64 74h1v1h-1zM65 75h1v2h-1zM66 77h1v1h-1zM67 78h1v1h-1zM68 79h1v1h-1zM69 80h1v1h-1zM70 81h1v1h-1zM71 82h1v2h-1zM72 84h1v1h-1zM73 85h1v1h-1zM74 86h1v1h-1zM75 87h1v2h-1zM76 89h1v1h-1zM86 93h1v1h-1zM87 94h1v1h-1zM88 95h1v1h-1zM89 96h1v2h-1zM90 98h1v1h-1zM91 99h1v1h-1zM92 100h1v1h-1zM160 103h1v1h-1zM165 106h1v1h-1zM166 107h1v1h-1zM169 109h1v1h-1zM170 110h1v1h-1zM173 112h1v1h-1zM174 113h1v1h-1zM177 115h1v1h-1zM178 116h1v1h-1zM181 118h1v1h-1zM184 120h1v1h-1zM189 123h1v1h-1zM190 124h1v1h-1zM191 125h1v1h-1zM192 126h1v1h-1zM195 128h1v1h-1zM196 129h1v1h-1zM197 130h1v1h-1zM198 131h1v1h-1zM199 132h1v1h-1zM200 133h1v1h-1zM201 134h1v2h-1zM202 136h1v1h-1zM203 137h1v1h-1zM204 138h1v1h-1zM205 139h1v1h-1zM206 140h1v1h-1zM207 141h1v2h-1zM208 143h1v1h-1zM209 144h1v1h-1zM210 145h1v1h-1zM211 146h1v2h-1zM212 148h1v1h-1zM213 149h1v1h-1zM214 150h1v1h-1zM215 151h1v1h-1zM216 152h1v1h-1zM217 153h1v2h-1zM218 155h1v1h-1zM219 156h1v1h-1zM220 157h1v1h-1zM221 158h1v1h-1zM222 159h1v1h-1zM223 160h1v2h-1zM224 162h1v1h-1zM225 163h1v1h-1zM226 164h1v1h-1zM227 165h1v2h-1zM228 167h1v1h-1zM229 168h1v1h-1zM230 169h1v1h-1zM231 170h1v2h-1zM232 172h1v1h-1zM233 173h1v1h-1zM234 174h1v1h-1zM235 175h1v2h-1zM236 177h1v1h-1zM237 178h1v1h-1zM238 179h1v2h-1zM239 181h1v1h-1zM240 182h1v1h-1zM241 183h1v2h-1zM242 185h1v1h-1zM243 186h1v1h-1zM244 187h1v2h-1zM245 189h1v1h-1zM246 190h1v1h-1zM247 191h1v1h-1zM248 192h1v1h-1zM249 193h1v1h-1zM250 194h1v1h-1zM251 195h1v1h-1zM252 196h1v1h-1zM253 197h1v1h-1zM254 198h1v1h-1zM255 199h1v1h-1zM256 200h1v1h-1zM257 201h1v1h-1zM258 202h1v1h-1zM259 203h1v1h-1zM260 204h1v1h-1zM261 205h1v1h-1zM262 206h1v1h-1zM263 207h1v1h-1zM264 208h1v1h-1zM267 210h1v1h-1zM268 211h1v1h-1zM269 212h1v1h-1zM270 213h1v1h-1zM271 214h1v1h-1zM272 215h1v1h-1zM273 216h1v1h-1zM274 217h1v1h-1zM275 218h1v1h-1zM276 219h1v1h-1zM277 220h1v1h-1zM278 221h1v1h-1zM279 222h1v1h-1zM280 223h1v1h-1zM283 225h1v1h-1zM284 226h1v1h-1zM285 227h1v1h-1zM286 228h1v1h-1zM287 229h1v1h-1zM288 230h1v1h-1zM289 231h1v1h-1zM290 232h1v1h-1zM291 233h1v1h-1zM292 234h1v1h-1zM293 235h1v1h-1zM294 236h1v1h-1zM297 238h1v1h-1zM298 239h1v1h-1zM320 239h1v1h-1zM352 229h1v1h-1zM422 234h1v1h-1zM425 236h1v1h-1zM426 237h1v1h-1zM429 239h1v1h-1zM430 240h1v1h-1zM431 241h1v1h-1zM432 242h1v1h-1zM435 244h1v1h-1zM436 245h1v1h-1zM462 256h1v1h-1zM463 257h1v1h-1zM464 258h1v1h-1zM467 260h1v1h-1zM468 261h1v1h-1zM576 264h1v1h-1zM616 249h1v1h-1zM621 246h1v1h-1zM624 244h1v1h-1zM688 254h1v1h-1zM710 265h1v1h-1zM713 267h1v1h-1zM714 268h1v1h-1zM717 270h1v1h-1zM718 271h1v1h-1zM719 272h1v1h-1zM720 273h1v1h-1zM723 275h1v1h-1zM724 276h1v1h-1zM725 277h1v1h-1zM726 278h1v1h-1zM729 280h1v1h-1zM730 281h1v1h-1zM733 283h1v1h-1zM736 285h1v1h-1zM741 288h1v1h-1zM742 289h1v1h-1zM743 290h1v1h-1zM744 291h1v1h-1zM747 293h1v1h-1zM748 294h1v1h-1zM749 295h1v1h-1zM750 296h1v1h-1zM751 297h1v1h-1zM752 298h1v1h-1zM755 300h1v1h-1zM756 301h1v1h-1zM870 315h1v1h-1zM873 317h1v1h-1zM874 318h1v1h-1zM877 320h1v1h-1zM878 321h1v1h-1zM879 322h1v1h-1zM880 323h1v1h-1zM881 324h1v1h-1zM882 325h1v1h-1zM883 326h1v1h-1zM884 327h1v1h-1zM885 328h1v1h-1zM886 329h1v1h-1zM889 331h1v1h-1zM890 332h1v1h-1zM893 334h1v1h-1zM894 335h1v1h-1zM897 337h1v1h-1zM898 338h1v1h-1zM901 340h1v1h-1zM918 349h1v1h-1zM921 351h1v1h-1zM922 352h1v1h-1zM976 358h1v1h-1zM1008 344h1v1h-1zM1160 364h1v1h-1zM1165 367h1v1h-1zM1174 372h1v1h-1zM1175 373h1v1h-1zM1176 374h1v1h-1zM1179 376h1v1h-1zM1180 377h1v1h-1zM1181 378h1v1h-1zM1182 379h1v1h-1zM1183 380h1v1h-1zM1184 381h1v1h-1zM1185 382h1v1h-1zM1186 383h1v1h-1zM1187 384h1v1h-1zM1188 385h1v1h-1zM1189 386h1v1h-1zM1190 387h1v1h-1zM1191 388h1v1h-1zM1192 389h1v1h-1zM1193 390h1v1h-1zM1194 391h1v1h-1zM1195 392h1v1h-1zM1196 393h1v1h-1zM1197 394h1v1h-1zM1198 395h1v1h-1zM1199 396h1v1h-1zM1200 397h1v1h-1zM1201 398h1v2h-1zM1202 400h1v1h-1zM1203 401h1v1h-1zM1204 402h1v1h-1zM1205 403h1v1h-1zM1206 404h1v1h-1zM1207 405h1v1h-1zM1208 406h1v1h-1zM1211 408h1v1h-1zM1212 409h1v1h-1zM1213 410h1v1h-1zM1214 411h1v1h-1zM1217 413h1v1h-1zM1218 414h1v1h-1zM1221 416h1v1h-1zM1222 417h1v1h-1zM1223 418h1v1h-1zM1224 419h1v1h-1zM1225 420h1v2h-1zM1226 422h1v1h-1zM1227 423h1v1h-1zM1228 424h1v1h-1zM1229 425h1v1h-1zM1230 426h1v2h-1zM1231 428h1v2h-1zM1232 430h1v1h-1zM1233 431h1v2h-1zM1234 433h1v1h-1zM1235 434h1v2h-1zM1236 436h1v2h-1zM1237 438h1v1h-1zM1238 439h1v2h-1zM1239 441h1v1h-1zM1240 442h1v1h-1zM1241 443h1v2h-1zM1242 445h1v1h-1zM1243 446h1v1h-1zM1244 447h1v2h-1zM1245 449h1v1h-1z" fill="#ff0000" shape-rendering="crispEdges"/>
<path d="M84 81h2v1h-2zM81 82h3v1h-3zM86 82h2v1h-2zM79 83h2v1h-2zM77 84h2v1h-2zM89 84h2v1h-2zM75 85h2v1h-2zM91 85h2v1h-2zM73 86h2v1h-2zM70 88h2v1h-2zM97 90h2v1h-2zM103 95h2v1h-2zM115 97h12v1h-12zM107 98h2v1h-2zM111 98h4v1h-4zM127 98h2v1h-2zM109 99h2v1h-2zM129 99h3v1h-3zM132 100h2v1h-2zM137 104h2v1h-2zM142 108h2v1h-2zM145 110h2v1h-2zM147 111h2v1h-2zM44 126h2v1h-2zM41 127h3v1h-3zM39 128h2v1h-2zM37 129h2v1h-2zM169 138h2v1h-2zM174 142h2v1h-2zM176 143h2v1h-2zM178 144h2v1h-2zM180 145h2v1h-2zM185 149h2v1h-2zM349 197h9v1h-9zM347 198h2v1h-2zM345 199h2v1h-2zM342 201h2v1h-2zM337 205h2v1h-2zM613 221h2v1h-2zM615 222h2v1h-2zM617 223h3v1h-3zM609 224h2v1h-2zM620 224h2v1h-2zM597 226h2v1h-2zM623 226h2v1h-2zM231 227h2v1h-2zM595 227h2v1h-2zM599 227h4v1h-4zM593 228h2v1h-2zM603 228h3v1h-3zM627 229h2v1h-2zM235 230h2v1h-2zM590 230h2v1h-2zM633 234h2v1h-2zM245 240h9v1h-9zM254 241h2v1h-2zM641 241h2v1h-2zM256 242h2v1h-2zM258 243h2v1h-2zM260 244h3v1h-3zM579 244h2v1h-2zM263 245h4v1h-4zM577 245h2v1h-2zM267 246h3v1h-3zM574 247h2v1h-2zM271 248h2v1h-2zM284 248h2v1h-2zM572 248h2v1h-2zM282 249h2v1h-2zM286 249h2v1h-2zM570 249h2v1h-2zM280 250h2v1h-2zM288 250h2v1h-2zM568 250h2v1h-2zM275 251h2v1h-2zM278 251h2v1h-2zM290 251h2v1h-2zM305 251h5v1h-5zM566 251h2v1h-2zM292 252h13v1h-13zM399 256h2v1h-2zM403 259h2v1h-2zM453 259h9v1h-9zM475 259h2v1h-2zM462 260h2v1h-2zM473 260h2v1h-2zM464 261h2v1h-2zM407 262h2v1h-2zM449 262h2v1h-2zM466 262h2v1h-2zM470 262h2v1h-2zM481 262h2v1h-2zM468 263h2v1h-2zM499 264h4v1h-4zM411 265h2v1h-2zM485 265h4v1h-4zM495 265h4v1h-4zM503 265h2v1h-2zM413 266h4v1h-4zM489 266h6v1h-6zM505 266h3v1h-3zM417 267h6v1h-6zM443 267h2v1h-2zM508 267h2v1h-2zM423 268h4v1h-4zM427 269h4v1h-4zM663 269h2v1h-2zM431 270h2v1h-2zM439 270h2v1h-2zM433 271h3v1h-3zM436 272h2v1h-2zM667 272h2v1h-2zM670 274h2v1h-2zM672 275h2v1h-2zM674 276h2v1h-2zM676 277h2v1h-2zM545 279h2v1h-2zM517 280h4v1h-4zM705 280h5v1h-5zM521 281h6v1h-6zM700 281h5v1h-5zM527 282h2v1h-2zM698 282h2v1h-2zM529 283h3v1h-3zM537 283h5v1h-5zM696 283h2v1h-2zM532 284h5v1h-5zM694 284h2v1h-2zM685 285h9v1h-9zM717 289h2v1h-2zM719 290h4v1h-4zM723 291h3v1h-3zM727 293h2v1h-2zM731 296h2v1h-2zM844 296h2v1h-2zM841 297h3v1h-3zM839 298h2v1h-2zM835 299h4v1h-4zM798 300h2v1h-2zM831 300h4v1h-4zM828 301h3v1h-3zM801 302h2v1h-2zM826 302h2v1h-2zM803 303h2v1h-2zM824 303h2v1h-2zM805 304h2v1h-2zM822 304h2v1h-2zM807 305h4v1h-4zM817 305h5v1h-5zM811 306h6v1h-6zM787 310h2v1h-2zM783 313h2v1h-2zM779 316h2v1h-2zM777 317h2v1h-2zM774 319h2v1h-2zM982 325h2v1h-2zM984 326h2v1h-2zM977 327h2v1h-2zM986 327h2v1h-2zM988 328h5v1h-5zM764 329h2v1h-2zM993 329h5v1h-5zM761 330h3v1h-3zM998 330h2v1h-2zM759 331h2v1h-2zM972 331h2v1h-2zM1000 331h2v1h-2zM757 332h2v1h-2zM970 332h2v1h-2zM1002 332h2v1h-2zM968 333h2v1h-2zM1004 333h3v1h-3zM966 334h2v1h-2zM1007 334h2v1h-2zM1009 335h3v1h-3zM963 336h2v1h-2zM1012 336h2v1h-2zM959 339h2v1h-2zM1044 342h3v1h-3zM1065 342h5v1h-5zM1041 343h3v1h-3zM1047 343h4v1h-4zM1057 343h8v1h-8zM1039 344h2v1h-2zM1051 344h6v1h-6zM1037 345h2v1h-2zM1035 346h2v1h-2zM1073 346h2v1h-2zM1021 347h2v1h-2zM1033 347h2v1h-2zM1023 348h2v1h-2zM1025 349h3v1h-3zM1030 349h2v1h-2zM1028 350h2v1h-2zM1079 351h2v1h-2zM1083 354h2v1h-2zM1085 355h10v1h-10zM1095 356h2v1h-2zM1097 357h3v1h-3zM1100 358h2v1h-2zM1123 358h2v1h-2zM1126 358h2v1h-2zM1102 359h2v1h-2zM1129 360h2v1h-2zM1105 361h2v1h-2zM1119 361h2v1h-2zM1131 361h2v1h-2zM1107 362h2v1h-2zM1133 362h4v1h-4zM1109 363h9v1h-9zM1137 363h8v1h-8zM1145 364h5v1h-5zM1151 366h2v1h-2zM1155 369h2v1h-2zM929 373h2v1h-2zM921 380h2v1h-2zM909 384h9v1h-9zM895 385h2v1h-2zM907 385h2v1h-2zM905 386h2v1h-2zM899 388h2v1h-2zM902 388h2v1h-2zM1213 466h2v1h-2zM1215 467h2v1h-2zM1217 468h3v1h-3zM1220 469h3v1h-3zM1223 470h2v1h-2zM1225 471h3v1h-3zM1228 472h2v1h-2zM5 54h1v2h-1zM6 56h1v3h-1zM7 59h1v3h-1zM8 62h1v3h-1zM9 65h1v2h-1zM10 67h1v3h-1zM11 70h1v3h-1zM12 73h1v3h-1zM13 76h1v3h-1zM14 79h1v3h-1zM15 82h1v3h-1zM16 85h1v3h-1zM17 88h1v4h-1zM18 92h1v3h-1zM19 95h1v3h-1zM20 98h1v3h-1zM21 101h1v3h-1zM22 104h1v2h-1zM23 106h1v2h-1zM24 108h1v2h-1zM25 110h1v2h-1zM26 112h1v2h-1zM27 114h1v2h-1zM28 116h1v2h-1zM29 118h1v2h-1zM30 120h1v1h-1zM31 121h1v2h-1zM32 123h1v1h-1zM33 124h1v1h-1zM34 125h1v1h-1zM35 126h1v2h-1zM36 128h1v1h-1zM46 125h1v1h-1zM47 124h1v1h-1zM48 123h1v1h-1zM49 122h1v1h-1zM50 121h1v1h-1zM51 120h1v1h-1zM52 119h1v1h-1zM53 118h1v1h-1zM54 116h1v2h-1zM55 114h1v2h-1zM56 113h1v1h-1zM57 111h1v2h-1zM58 110h1v1h-1zM59 108h1v2h-1zM60 106h1v2h-1zM61 105h1v1h-1zM62 103h1v2h-1zM63 101h1v2h-1zM64 99h1v2h-1zM65 97h1v2h-1zM66 95h1v2h-1zM67 93h1v2h-1zM68 91h1v2h-1zM69 89h1v2h-1zM72 87h1v1h-1zM88 83h1v1h-1zM93 86h1v1h-1zM94 87h1v1h-1zM95 88h1v1h-1zM96 89h1v1h-1zM99 91h1v1h-1zM100 92h1v1h-1zM101 93h1v1h-1zM102 94h1v1h-1zM105 96h1v1h-1zM106 97h1v1h-1zM134 101h1v1h-1zM135 102h1v1h-1zM136 103h1v1h-1zM139 105h1v1h-1zM140 106h1v1h-1zM141 107h1v1h-1zM144 109h1v1h-1zM149 112h1v1h-1zM150 113h1v2h-1zM151 115h1v1h-1zM152 116h1v1h-1zM153 117h1v2h-1zM154 119h1v1h-1zM155 120h1v1h-1zM156 121h1v2h-1zM157 123h1v1h-1zM158 124h1v2h-1zM159 126h1v1h-1zM160 127h1v1h-1zM161 128h1v2h-1zM162 130h1v1h-1zM163 131h1v1h-1zM164 132h1v2h-1zM165 134h1v1h-1zM166 135h1v1h-1zM167 136h1v1h-1zM168 137h1v1h-1zM171 139h1v1h-1zM172 140h1v1h-1zM173 141h1v1h-1zM182 146h1v1h-1zM183 147h1v1h-1zM184 148h1v1h-1zM187 150h1v1h-1zM188 151h1v1h-1zM189 152h1v1h-1zM190 153h1v1h-1zM191 154h1v2h-1zM192 156h1v1h-1zM193 157h1v1h-1zM194 158h1v1h-1zM195 159h1v2h-1zM196 161h1v1h-1zM197 162h1v2h-1zM198 164h1v2h-1zM199 166h1v2h-1zM200 168h1v2h-1zM201 170h1v2h-1zM202 172h1v2h-1zM203 174h1v2h-1zM204 176h1v2h-1zM205 178h1v3h-1zM206 181h1v2h-1zM207 183h1v2h-1zM208 185h1v2h-1zM209 187h1v2h-1zM210 189h1v2h-1zM211 191h1v2h-1zM212 193h1v2h-1zM213 195h1v2h-1zM214 197h1v2h-1zM215 199h1v2h-1zM216 201h1v2h-1zM217 203h1v1h-1zM218 204h1v2h-1zM219 206h1v2h-1zM220 208h1v2h-1zM221 210h1v1h-1zM222 211h1v2h-1zM223 213h1v2h-1zM224 215h1v2h-1zM225 217h1v2h-1zM226 219h1v2h-1zM227 221h1v2h-1zM228 223h1v2h-1zM229 225h1v1h-1zM230 226h1v1h-1zM233 228h1v1h-1zM234 229h1v1h-1zM237 231h1v1h-1zM238 232h1v1h-1zM239 233h1v1h-1zM240 234h1v1h-1zM241 235h1v2h-1zM242 237h1v1h-1zM243 238h1v1h-1zM244 239h1v1h-1zM270 247h1v1h-1zM273 249h1v1h-1zM274 250h1v1h-1zM277 252h1v1h-1zM310 249h1v2h-1zM311 247h1v2h-1zM312 246h1v1h-1zM313 244h1v2h-1zM314 243h1v1h-1zM315 241h1v2h-1zM316 239h1v2h-1zM317 238h1v1h-1zM318 236h1v2h-1zM319 234h1v2h-1zM320 232h1v2h-1zM321 230h1v2h-1zM322 228h1v2h-1zM323 226h1v2h-1zM324 224h1v2h-1zM325 222h1v2h-1zM326 220h1v2h-1zM327 218h1v2h-1zM328 217h1v1h-1zM329 215h1v2h-1zM330 214h1v1h-1zM331 212h1v2h-1zM332 210h1v2h-1zM333 209h1v1h-1zM334 208h1v1h-1zM335 207h1v1h-1zM336 206h1v1h-1zM339 204h1v1h-1zM340 203h1v1h-1zM341 202h1v1h-1zM344 200h1v1h-1zM358 198h1v2h-1zM359 200h1v1h-1zM360 201h1v2h-1zM361 203h1v1h-1zM362 204h1v2h-1zM363 206h1v1h-1zM364 207h1v2h-1zM365 209h1v1h-1zM366 210h1v2h-1zM367 212h1v1h-1zM368 213h1v1h-1zM369 214h1v2h-1zM370 216h1v1h-1zM371 217h1v1h-1zM372 218h1v2h-1zM373 220h1v1h-1zM374 221h1v1h-1zM375 222h1v2h-1zM376 224h1v1h-1zM377 225h1v1h-1zM378 226h1v1h-1zM379 227h1v2h-1zM380 229h1v1h-1zM381 230h1v1h-1zM382 231h1v2h-1zM383 233h1v1h-1zM384 234h1v2h-1zM385 236h1v1h-1zM386 237h1v2h-1zM387 239h1v1h-1zM388 240h1v2h-1zM389 242h1v1h-1zM390 243h1v2h-1zM391 245h1v1h-1zM392 246h1v2h-1zM393 248h1v1h-1zM394 249h1v2h-1zM395 251h1v1h-1zM396 252h1v2h-1zM397 254h1v1h-1zM398 255h1v1h-1zM401 257h1v1h-1zM402 258h1v1h-1zM405 260h1v1h-1zM406 261h1v1h-1zM409 263h1v1h-1zM410 264h1v1h-1zM438 271h1v1h-1zM441 269h1v1h-1zM442 268h1v1h-1zM445 266h1v1h-1zM446 265h1v1h-1zM447 264h1v1h-1zM448 263h1v1h-1zM451 261h1v1h-1zM452 260h1v1h-1zM472 261h1v1h-1zM477 258h1v1h-1zM478 259h1v1h-1zM479 260h1v1h-1zM480 261h1v1h-1zM483 263h1v1h-1zM484 264h1v1h-1zM510 268h1v2h-1zM511 270h1v2h-1zM512 272h1v1h-1zM513 273h1v2h-1zM514 275h1v1h-1zM515 276h1v2h-1zM516 278h1v2h-1zM542 282h1v1h-1zM543 281h1v1h-1zM544 280h1v1h-1zM547 278h1v1h-1zM548 277h1v1h-1zM549 276h1v1h-1zM550 274h1v2h-1zM551 272h1v2h-1zM552 270h1v2h-1zM553 268h1v2h-1zM554 266h1v2h-1zM555 264h1v2h-1zM556 262h1v2h-1zM557 261h1v1h-1zM558 260h1v1h-1zM559 259h1v1h-1zM560 258h1v1h-1zM561 256h1v2h-1zM562 255h1v1h-1zM563 254h1v1h-1zM564 253h1v1h-1zM565 252h1v1h-1zM576 246h1v1h-1zM581 243h1v1h-1zM582 241h1v2h-1zM583 240h1v1h-1zM584 238h1v2h-1zM585 237h1v1h-1zM586 235h1v2h-1zM587 234h1v1h-1zM588 232h1v2h-1zM589 231h1v1h-1zM592 229h1v1h-1zM606 227h1v1h-1zM607 226h1v1h-1zM608 225h1v1h-1zM611 223h1v1h-1zM612 222h1v1h-1zM622 225h1v1h-1zM625 227h1v1h-1zM626 228h1v1h-1zM629 230h1v1h-1zM630 231h1v1h-1zM631 232h1v1h-1zM632 233h1v1h-1zM635 235h1v1h-1zM636 236h1v1h-1zM637 237h1v1h-1zM638 238h1v1h-1zM639 239h1v1h-1zM640 240h1v1h-1zM643 242h1v1h-1zM644 243h1v1h-1zM645 244h1v1h-1zM646 245h1v2h-1zM647 247h1v2h-1zM648 249h1v2h-1zM649 251h1v1h-1zM650 252h1v2h-1zM651 254h1v2h-1zM652 256h1v2h-1zM653 258h1v1h-1zM654 259h1v1h-1zM655 260h1v1h-1zM656 261h1v1h-1zM657 262h1v2h-1zM658 264h1v1h-1zM659 265h1v1h-1zM660 266h1v1h-1zM661 267h1v1h-1zM662 268h1v1h-1zM665 270h1v1h-1zM666 271h1v1h-1zM669 273h1v1h-1zM678 278h1v1h-1zM679 279h1v1h-1zM680 280h1v1h-1zM681 281h1v1h-1zM682 282h1v1h-1zM683 283h1v1h-1zM684 284h1v1h-1zM710 281h1v1h-1zM711 282h1v1h-1zM712 283h1v1h-1zM713 284h1v2h-1zM714 286h1v1h-1zM715 287h1v1h-1zM716 288h1v1h-1zM726 292h1v1h-1zM729 294h1v1h-1zM730 295h1v1h-1zM733 297h1v1h-1zM734 298h1v2h-1zM735 300h1v1h-1zM736 301h1v2h-1zM737 303h1v1h-1zM738 304h1v2h-1zM739 306h1v1h-1zM740 307h1v2h-1zM741 309h1v1h-1zM742 310h1v2h-1zM743 312h1v2h-1zM744 314h1v2h-1zM745 316h1v2h-1zM746 318h1v2h-1zM747 320h1v2h-1zM748 322h1v2h-1zM749 324h1v1h-1zM750 325h1v1h-1zM751 326h1v1h-1zM752 327h1v1h-1zM753 328h1v1h-1zM754 329h1v1h-1zM755 330h1v1h-1zM756 331h1v1h-1zM766 328h1v1h-1zM767 327h1v1h-1zM768 326h1v1h-1zM769 324h1v2h-1zM770 323h1v1h-1zM771 322h1v1h-1zM772 321h1v1h-1zM773 320h1v1h-1zM776 318h1v1h-1zM781 315h1v1h-1zM782 314h1v1h-1zM785 312h1v1h-1zM786 311h1v1h-1zM789 309h1v1h-1zM790 308h1v1h-1zM791 306h1v2h-1zM792 305h1v1h-1zM793 304h1v1h-1zM794 303h1v1h-1zM795 301h1v2h-1zM796 300h1v1h-1zM797 299h1v1h-1zM800 301h1v1h-1zM846 297h1v2h-1zM847 299h1v1h-1zM848 300h1v1h-1zM849 301h1v2h-1zM850 303h1v1h-1zM851 304h1v1h-1zM852 305h1v2h-1zM853 307h1v1h-1zM854 308h1v2h-1zM855 310h1v2h-1zM856 312h1v2h-1zM857 314h1v2h-1zM858 316h1v2h-1zM859 318h1v2h-1zM860 320h1v2h-1zM861 322h1v3h-1zM862 325h1v2h-1zM863 327h1v2h-1zM864 329h1v2h-1zM865 331h1v3h-1zM866 334h1v2h-1zM867 336h1v2h-1zM868 338h1v2h-1zM869 340h1v2h-1zM870 342h1v2h-1zM871 344h1v2h-1zM872 346h1v2h-1zM873 348h1v2h-1zM874 350h1v2h-1zM875 352h1v2h-1zM876 354h1v2h-1zM877 356h1v2h-1zM878 358h1v2h-1zM879 360h1v2h-1zM880 362h1v2h-1zM881 364h1v3h-1zM882 367h1v2h-1zM883 369h1v2h-1zM884 371h1v2h-1zM885 373h1v2h-1zM886 375h1v1h-1zM887 376h1v1h-1zM888 377h1v1h-1zM889 378h1v2h-1zM890 380h1v1h-1zM891 381h1v1h-1zM892 382h1v1h-1zM893 383h1v1h-1zM894 384h1v1h-1zM897 386h1v1h-1zM898 387h1v1h-1zM901 389h1v1h-1zM904 387h1v1h-1zM918 383h1v1h-1zM919 382h1v1h-1zM920 381h1v1h-1zM923 379h1v1h-1zM924 378h1v1h-1zM925 377h1v1h-1zM926 376h1v1h-1zM927 375h1v1h-1zM928 374h1v1h-1zM931 372h1v1h-1zM932 371h1v1h-1zM933 370h1v1h-1zM934 368h1v2h-1zM935 367h1v1h-1zM936 366h1v1h-1zM937 364h1v2h-1zM938 363h1v1h-1zM939 362h1v1h-1zM940 360h1v2h-1zM941 359h1v1h-1zM942 358h1v1h-1zM943 356h1v2h-1zM944 355h1v1h-1zM945 354h1v1h-1zM946 353h1v1h-1zM947 351h1v2h-1zM948 350h1v1h-1zM949 349h1v1h-1zM950 348h1v1h-1zM951 347h1v1h-1zM952 346h1v1h-1zM953 345h1v1h-1zM954 344h1v1h-1zM955 343h1v1h-1zM956 342h1v1h-1zM957 341h1v1h-1zM958 340h1v1h-1zM961 338h1v1h-1zM962 337h1v1h-1zM965 335h1v1h-1zM974 330h1v1h-1zM975 329h1v1h-1zM976 328h1v1h-1zM979 326h1v1h-1zM980 325h1v1h-1zM981 324h1v1h-1zM1014 337h1v2h-1zM1015 339h1v1h-1zM1016 340h1v1h-1zM1017 341h1v2h-1zM1018 343h1v1h-1zM1019 344h1v1h-1zM1020 345h1v2h-1zM1032 348h1v1h-1zM1070 343h1v1h-1zM1071 344h1v1h-1zM1072 345h1v1h-1zM1075 347h1v1h-1zM1076 348h1v1h-1zM1077 349h1v1h-1zM1078 350h1v1h-1zM1081 352h1v1h-1zM1082 353h1v1h-1zM1104 360h1v1h-1zM1118 362h1v1h-1zM1121 360h1v1h-1zM1122 359h1v1h-1zM1125 357h1v1h-1zM1128 359h1v1h-1zM1150 365h1v1h-1zM1153 367h1v1h-1zM1154 368h1v1h-1zM1157 370h1v1h-1zM1158 371h1v2h-1zM1159 373h1v2h-1zM1160 375h1v2h-1zM1161 377h1v2h-1zM1162 379h1v2h-1zM1163 381h1v2h-1zM1164 383h1v2h-1zM1165 385h1v2h-1zM1166 387h1v1h-1zM1167 388h1v1h-1zM1168 389h1v1h-1zM1169 390h1v1h-1zM1170 391h1v1h-1zM1171 392h1v1h-1zM1172 393h1v1h-1zM1173 394h1v1h-1zM1174 395h1v2h-1zM1175 397h1v2h-1zM1176 399h1v1h-1zM1177 400h1v2h-1zM1178 402h1v1h-1zM1179 403h1v2h-1zM1180 405h1v2h-1zM1181 407h1v2h-1zM1182 409h1v2h-1zM1183 411h1v2h-1zM1184 413h1v3h-1zM1185 416h1v2h-1zM1186 418h1v3h-1zM1187 421h1v2h-1zM1188 423h1v2h-1zM1189 425h1v3h-1zM1190 428h1v2h-1zM1191 430h1v2h-1zM1192 432h1v2h-1zM1193 434h1v2h-1zM1194 436h1v2h-1zM1195 438h1v2h-1zM1196 440h1v2h-1zM1197 442h1v2h-1zM1198 444h1v2h-1zM1199 446h1v1h-1zM1200 447h1v1h-1zM1201 448h1v2h-1zM1202 450h1v1h-1zM1203 451h1v1h-1zM1204 452h1v2h-1zM1205 454h1v1h-1zM1206 455h1v2h-1zM1207 457h1v1h-1zM1208 458h1v2h-1zM1209 460h1v1h-1zM1210 461h1v2h-1zM1211 463h1v1h-1zM1212 464h1v2h-1zM1230 473h1v1h-1zM1231 474h1v1h-1zM1232 475h1v1h-1zM1233 476h1v2h-1zM1234 478h1v1h-1zM1235 479h1v1h-1zM1236 480h1v1h-1zM1237 481h1v1h-1zM1238 482h1v2h-1zM1239 484h1v1h-1zM1240 485h1v2h-1zM1241 487h1v1h-1zM1242 488h1v2h-1zM1243 490h1v1h-1zM1244 491h1v2h-1zM1245 493h1v1h-1z" fill="#ffa500" shape-rendering="crispEdges"/>
</g>
<g shape-rendering="crispEdges">
<rect x="4" y="28" width="1578" height="2" fill="#ff0000"/>
<rect x="4" y="26" width="6" height="6" fill="#ff0000"/>
<rect x="6" y="28" width="2" height="2" fill="#fff"/>
<rect x="1575" y="26" width="6" height="6" fill="#ff0000"/>
<rect x="1577" y="28" width="2" height="2" fill="#fff"/>
<rect x="4" y="115" width="1578" height="2" fill="#ff0000"/>
<rect x="4" y="113" width="6" height="6" fill="#ff0000"/>
<rect x="6" y="115" width="2" height="2" fill="#fff"/>
<rect x="1575" y="113" width="6" height="6" fill="#ff0000"/>
<rect x="1577" y="115" width="2" height="2" fill="#fff"/>
<rect x="4" y="200" width="1578" height="2" fill="#ff0000"/>
<rect x="4" y="198" width="6" height="6" fill="#ff0000"/>
<rect x="6" y="200" width="2" height="2" fill="#fff"/>
<rect x="1575" y="198" width="6" height="6" fill="#ff0000"/>
<rect x="1577" y="200" width="2" height="2" fill="#fff"/>
<rect x="4" y="299" width="1578" height="2" fill="#ff0000"/>
<rect x="4" y="297" width="6" height="6" fill="#ff0000"/>
<rect x="6" y="299" width="2" height="2" fill="#fff"/>
<rect x="1575" y="297" width="6" height="6" fill="#ff0000"/>
<rect x="1577" y="299" width="2" height="2" fill="#fff"/>
<rect x="4" y="369" width="1578" height="2" fill="#00ff00"/>
<rect x="4" y="367" width="6" height="6" fill="#00ff00"/>
<rect x="6" y="369" width="2" height="2" fill="#fff"/>
<rect x="1575" y="367" width="6" height="6" fill="#00ff00"/>
<rect x="1577" y="369" width="2" height="2" fill="#fff"/>
<rect x="4" y="434" width="1578" height="2" fill="#0000ff"/>
<rect x="4" y="432" width="6" height="6" fill="#0000ff"/>
<rect x="6" y="434" width="2" height="2" fill="#fff"/>
<rect x="1575" y="432" width="6" height="6" fill="#0000ff"/>
<rect x="1577" y="434" width="2" height="2" fill="#fff"/>
</g>
<path d="M1260.5,27 L1268.5,27 L1264.5,32 Z" fill="#c0c0c0"/>
<path d="M8,33 L15,33 L11.5,37 Z" fill="#000"/>
<text x="20" y="38" class="ax" fill="#000" textLength="66" lengthAdjust="spacingAndGlyphs" stroke="#000" stroke-width="0.22">USDCAD,Daily</text>
<text x="92" y="38" class="ax" fill="#000" textLength="141" lengthAdjust="spacingAndGlyphs" stroke="#000" stroke-width="0.22">1.21922 1.21960 1.21413 1.21533</text>
<g shape-rendering="crispEdges">
<rect x="1582" y="55" width="3" height="1" fill="#000"/>
<rect x="1582" y="88" width="3" height="1" fill="#000"/>
<rect x="1582" y="121" width="3" height="1" fill="#000"/>
<rect x="1582" y="154" width="3" height="1" fill="#000"/>
<rect x="1582" y="187" width="3" height="1" fill="#000"/>
<rect x="1582" y="220" width="3" height="1" fill="#000"/>
<rect x="1582" y="253" width="3" height="1" fill="#000"/>
<rect x="1582" y="286" width="3" height="1" fill="#000"/>
<rect x="1582" y="319" width="3" height="1" fill="#000"/>
<rect x="1582" y="352" width="3" height="1" fill="#000"/>
<rect x="1582" y="385" width="3" height="1" fill="#000"/>
<rect x="1582" y="418" width="3" height="1" fill="#000"/>
<rect x="1582" y="451" width="3" height="1" fill="#000"/>
<rect x="1582" y="484" width="3" height="1" fill="#000"/>
<rect x="1582" y="517" width="3" height="1" fill="#000"/>
<rect x="1582" y="550" width="3" height="1" fill="#000"/>
</g>
<text x="1587" y="59" class="ax" fill="#000" textLength="33" lengthAdjust="spacingAndGlyphs" stroke="#000" stroke-width="0.22">1.31710</text>
<text x="1587" y="92" class="ax" fill="#000" textLength="33" lengthAdjust="spacingAndGlyphs" stroke="#000" stroke-width="0.22">1.31010</text>
<text x="1587" y="125" class="ax" fill="#000" textLength="33" lengthAdjust="spacingAndGlyphs" stroke="#000" stroke-width="0.22">1.30310</text>
<text x="1587" y="158" class="ax" fill="#000" textLength="33" lengthAdjust="spacingAndGlyphs" stroke="#000" stroke-width="0.22">1.29610</text>
<text x="1587" y="191" class="ax" fill="#000" textLength="33" lengthAdjust="spacingAndGlyphs" stroke="#000" stroke-width="0.22">1.28910</text>
<text x="1587" y="224" class="ax" fill="#000" textLength="33" lengthAdjust="spacingAndGlyphs" stroke="#000" stroke-width="0.22">1.28210</text>
<text x="1587" y="257" class="ax" fill="#000" textLength="33" lengthAdjust="spacingAndGlyphs" stroke="#000" stroke-width="0.22">1.27510</text>
<text x="1587" y="290" class="ax" fill="#000" textLength="33" lengthAdjust="spacingAndGlyphs" stroke="#000" stroke-width="0.22">1.26810</text>
<text x="1587" y="323" class="ax" fill="#000" textLength="33" lengthAdjust="spacingAndGlyphs" stroke="#000" stroke-width="0.22">1.26110</text>
<text x="1587" y="356" class="ax" fill="#000" textLength="33" lengthAdjust="spacingAndGlyphs" stroke="#000" stroke-width="0.22">1.25410</text>
<text x="1587" y="389" class="ax" fill="#000" textLength="33" lengthAdjust="spacingAndGlyphs" stroke="#000" stroke-width="0.22">1.24710</text>
<text x="1587" y="422" class="ax" fill="#000" textLength="33" lengthAdjust="spacingAndGlyphs" stroke="#000" stroke-width="0.22">1.24010</text>
<text x="1587" y="455" class="ax" fill="#000" textLength="33" lengthAdjust="spacingAndGlyphs" stroke="#000" stroke-width="0.22">1.23310</text>
<text x="1587" y="488" class="ax" fill="#000" textLength="33" lengthAdjust="spacingAndGlyphs" stroke="#000" stroke-width="0.22">1.22610</text>
<text x="1587" y="521" class="ax" fill="#000" textLength="33" lengthAdjust="spacingAndGlyphs" stroke="#000" stroke-width="0.22">1.21910</text>
<text x="1587" y="554" class="ax" fill="#000" textLength="33" lengthAdjust="spacingAndGlyphs" stroke="#000" stroke-width="0.22">1.21210</text>
<rect x="1583" y="24" width="40" height="10" fill="#ff0000" shape-rendering="crispEdges"/>
<text x="1587" y="32" class="ax" fill="#fff" textLength="33" lengthAdjust="spacingAndGlyphs" stroke="#fff" stroke-width="0.22">1.32258</text>
<rect x="1583" y="110" width="40" height="11" fill="#ff0000" shape-rendering="crispEdges"/>
<text x="1587" y="119" class="ax" fill="#fff" textLength="33" lengthAdjust="spacingAndGlyphs" stroke="#fff" stroke-width="0.22">1.30415</text>
<rect x="1583" y="195" width="40" height="11" fill="#ff0000" shape-rendering="crispEdges"/>
<text x="1587" y="204" class="ax" fill="#fff" textLength="33" lengthAdjust="spacingAndGlyphs" stroke="#fff" stroke-width="0.22">1.28616</text>
<rect x="1583" y="294" width="40" height="11" fill="#ff0000" shape-rendering="crispEdges"/>
<text x="1587" y="303" class="ax" fill="#fff" textLength="33" lengthAdjust="spacingAndGlyphs" stroke="#fff" stroke-width="0.22">1.26503</text>
<rect x="1583" y="364" width="40" height="11" fill="#00ff00" shape-rendering="crispEdges"/>
<text x="1587" y="373" class="ax" fill="#fff" textLength="33" lengthAdjust="spacingAndGlyphs" stroke="#fff" stroke-width="0.22">1.25019</text>
<rect x="1583" y="429" width="40" height="11" fill="#0000ff" shape-rendering="crispEdges"/>
<text x="1587" y="438" class="ax" fill="#fff" textLength="33" lengthAdjust="spacingAndGlyphs" stroke="#fff" stroke-width="0.22">1.23653</text>
<rect x="1583" y="529" width="40" height="11" fill="#000000" shape-rendering="crispEdges"/>
<text x="1587" y="538" class="ax" fill="#fff" textLength="33" lengthAdjust="spacingAndGlyphs" stroke="#fff" stroke-width="0.22">1.21533</text>
<g shape-rendering="crispEdges">
<line x1="6" y1="585.5" x2="1581" y2="585.5" stroke="#c0c0c0" stroke-width="1" stroke-dasharray="3,3"/>
<line x1="6" y1="622.5" x2="1581" y2="622.5" stroke="#c0c0c0" stroke-width="1" stroke-dasharray="3,3"/>
</g>
<g clip-path="url(#cRsi)">
<path d="M587 598h12v1h-12zM612 598h2v1h-2zM323 599h2v1h-2zM583 599h4v1h-4zM599 599h2v1h-2zM609 599h3v1h-3zM614 599h2v1h-2zM980 599h2v1h-2zM321 600h2v1h-2zM327 600h2v1h-2zM563 600h4v1h-4zM579 600h4v1h-4zM601 600h3v1h-3zM607 600h2v1h-2zM977 600h3v1h-3zM982 600h2v1h-2zM559 601h4v1h-4zM567 601h4v1h-4zM575 601h4v1h-4zM604 601h3v1h-3zM617 601h2v1h-2zM772 601h2v1h-2zM948 601h3v1h-3zM975 601h2v1h-2zM1038 601h2v1h-2zM1124 601h2v1h-2zM60 602h3v1h-3zM318 602h2v1h-2zM557 602h2v1h-2zM571 602h4v1h-4zM619 602h2v1h-2zM770 602h2v1h-2zM774 602h2v1h-2zM813 602h2v1h-2zM946 602h2v1h-2zM951 602h2v1h-2zM963 602h12v1h-12zM985 602h2v1h-2zM1040 602h2v1h-2zM1122 602h2v1h-2zM58 603h2v1h-2zM63 603h4v1h-4zM331 603h2v1h-2zM555 603h2v1h-2zM621 603h4v1h-4zM768 603h2v1h-2zM776 603h2v1h-2zM815 603h4v1h-4zM944 603h2v1h-2zM953 603h3v1h-3zM959 603h4v1h-4zM987 603h2v1h-2zM1042 603h2v1h-2zM1120 603h2v1h-2zM56 604h2v1h-2zM67 604h3v1h-3zM333 604h2v1h-2zM355 604h3v1h-3zM445 604h2v1h-2zM492 604h3v1h-3zM539 604h4v1h-4zM553 604h2v1h-2zM625 604h8v1h-8zM766 604h2v1h-2zM778 604h2v1h-2zM819 604h12v1h-12zM942 604h2v1h-2zM956 604h3v1h-3zM989 604h2v1h-2zM1012 604h2v1h-2zM1044 604h3v1h-3zM1118 604h2v1h-2zM54 605h2v1h-2zM70 605h2v1h-2zM335 605h4v1h-4zM351 605h4v1h-4zM358 605h2v1h-2zM447 605h4v1h-4zM489 605h3v1h-3zM495 605h4v1h-4zM535 605h4v1h-4zM543 605h2v1h-2zM633 605h6v1h-6zM780 605h3v1h-3zM809 605h2v1h-2zM831 605h4v1h-4zM937 605h5v1h-5zM991 605h4v1h-4zM1009 605h3v1h-3zM1047 605h4v1h-4zM1116 605h2v1h-2zM52 606h2v1h-2zM116 606h10v1h-10zM339 606h12v1h-12zM360 606h2v1h-2zM451 606h4v1h-4zM477 606h4v1h-4zM487 606h2v1h-2zM499 606h3v1h-3zM525 606h10v1h-10zM545 606h3v1h-3zM550 606h2v1h-2zM639 606h2v1h-2zM700 606h10v1h-10zM783 606h2v1h-2zM835 606h11v1h-11zM931 606h6v1h-6zM995 606h6v1h-6zM1007 606h2v1h-2zM1015 606h2v1h-2zM1051 606h4v1h-4zM1067 606h12v1h-12zM1092 606h2v1h-2zM1114 606h2v1h-2zM50 607h2v1h-2zM73 607h2v1h-2zM83 607h4v1h-4zM99 607h4v1h-4zM113 607h3v1h-3zM126 607h2v1h-2zM362 607h2v1h-2zM455 607h2v1h-2zM481 607h6v1h-6zM548 607h2v1h-2zM641 607h3v1h-3zM698 607h2v1h-2zM785 607h3v1h-3zM793 607h6v1h-6zM927 607h4v1h-4zM1001 607h6v1h-6zM1055 607h4v1h-4zM1063 607h4v1h-4zM1079 607h2v1h-2zM1089 607h3v1h-3zM1094 607h2v1h-2zM1112 607h2v1h-2zM48 608h2v1h-2zM75 608h2v1h-2zM79 608h4v1h-4zM87 608h4v1h-4zM95 608h4v1h-4zM103 608h4v1h-4zM111 608h2v1h-2zM364 608h2v1h-2zM457 608h3v1h-3zM644 608h3v1h-3zM696 608h2v1h-2zM788 608h5v1h-5zM799 608h4v1h-4zM847 608h2v1h-2zM924 608h3v1h-3zM1027 608h3v1h-3zM1059 608h4v1h-4zM1081 608h3v1h-3zM1087 608h2v1h-2zM1096 608h2v1h-2zM1110 608h2v1h-2zM46 609h2v1h-2zM77 609h2v1h-2zM91 609h4v1h-4zM107 609h4v1h-4zM129 609h2v1h-2zM366 609h2v1h-2zM460 609h2v1h-2zM647 609h2v1h-2zM667 609h11v1h-11zM694 609h2v1h-2zM803 609h3v1h-3zM921 609h3v1h-3zM1019 609h2v1h-2zM1023 609h4v1h-4zM1084 609h3v1h-3zM1098 609h2v1h-2zM1105 609h5v1h-5zM1137 609h14v1h-14zM44 610h2v1h-2zM131 610h2v1h-2zM368 610h2v1h-2zM649 610h3v1h-3zM663 610h4v1h-4zM678 610h2v1h-2zM692 610h2v1h-2zM909 610h4v1h-4zM919 610h2v1h-2zM1021 610h2v1h-2zM1100 610h5v1h-5zM1133 610h4v1h-4zM1151 610h4v1h-4zM42 611h2v1h-2zM133 611h2v1h-2zM370 611h2v1h-2zM463 611h2v1h-2zM652 611h11v1h-11zM690 611h2v1h-2zM851 611h2v1h-2zM913 611h6v1h-6zM1155 611h3v1h-3zM40 612h2v1h-2zM135 612h4v1h-4zM145 612h6v1h-6zM307 612h3v1h-3zM372 612h3v1h-3zM681 612h2v1h-2zM688 612h2v1h-2zM38 613h2v1h-2zM139 613h6v1h-6zM151 613h2v1h-2zM303 613h4v1h-4zM375 613h4v1h-4zM396 613h11v1h-11zM420 613h3v1h-3zM436 613h2v1h-2zM683 613h2v1h-2zM686 613h2v1h-2zM723 613h6v1h-6zM854 613h2v1h-2zM1159 613h2v1h-2zM153 614h3v1h-3zM161 614h6v1h-6zM301 614h2v1h-2zM379 614h4v1h-4zM393 614h3v1h-3zM407 614h2v1h-2zM417 614h3v1h-3zM423 614h2v1h-2zM433 614h3v1h-3zM467 614h2v1h-2zM509 614h9v1h-9zM719 614h4v1h-4zM729 614h8v1h-8zM35 615h2v1h-2zM156 615h5v1h-5zM167 615h4v1h-4zM383 615h4v1h-4zM391 615h2v1h-2zM409 615h3v1h-3zM415 615h2v1h-2zM425 615h3v1h-3zM431 615h2v1h-2zM717 615h2v1h-2zM737 615h6v1h-6zM857 615h2v1h-2zM5 616h18v1h-18zM33 616h2v1h-2zM171 616h14v1h-14zM387 616h4v1h-4zM412 616h3v1h-3zM428 616h3v1h-3zM743 616h2v1h-2zM859 616h2v1h-2zM876 616h3v1h-3zM892 616h3v1h-3zM1163 616h2v1h-2zM23 617h2v1h-2zM185 617h5v1h-5zM745 617h3v1h-3zM861 617h2v1h-2zM873 617h3v1h-3zM879 617h2v1h-2zM889 617h3v1h-3zM895 617h2v1h-2zM1165 617h10v1h-10zM25 618h3v1h-3zM30 618h2v1h-2zM190 618h2v1h-2zM284 618h2v1h-2zM748 618h2v1h-2zM863 618h4v1h-4zM871 618h2v1h-2zM881 618h3v1h-3zM887 618h2v1h-2zM897 618h3v1h-3zM1175 618h2v1h-2zM28 619h2v1h-2zM253 619h18v1h-18zM282 619h2v1h-2zM286 619h2v1h-2zM750 619h2v1h-2zM867 619h4v1h-4zM884 619h3v1h-3zM900 619h2v1h-2zM1177 619h3v1h-3zM1222 619h2v1h-2zM193 620h2v1h-2zM271 620h2v1h-2zM280 620h2v1h-2zM288 620h2v1h-2zM752 620h2v1h-2zM1180 620h2v1h-2zM1224 620h2v1h-2zM195 621h2v1h-2zM273 621h3v1h-3zM278 621h2v1h-2zM290 621h2v1h-2zM754 621h2v1h-2zM1182 621h2v1h-2zM1217 621h2v1h-2zM1226 621h2v1h-2zM276 622h2v1h-2zM292 622h2v1h-2zM756 622h2v1h-2zM1184 622h2v1h-2zM1228 622h2v1h-2zM198 623h2v1h-2zM221 623h4v1h-4zM233 623h5v1h-5zM1186 623h2v1h-2zM1230 623h2v1h-2zM200 624h2v1h-2zM219 624h2v1h-2zM225 624h8v1h-8zM238 624h2v1h-2zM1188 624h13v1h-13zM1232 624h2v1h-2zM202 625h2v1h-2zM217 625h2v1h-2zM240 625h2v1h-2zM1201 625h13v1h-13zM1234 625h2v1h-2zM204 626h3v1h-3zM242 626h2v1h-2zM1236 626h3v1h-3zM207 627h4v1h-4zM214 627h2v1h-2zM244 627h2v1h-2zM1239 627h4v1h-4zM211 628h3v1h-3zM1243 628h3v1h-3zM32 617h1v1h-1zM37 614h1v1h-1zM72 606h1v1h-1zM128 608h1v1h-1zM192 619h1v1h-1zM197 622h1v1h-1zM216 626h1v1h-1zM246 626h1v1h-1zM247 625h1v1h-1zM248 624h1v1h-1zM249 623h1v1h-1zM250 622h1v1h-1zM251 621h1v1h-1zM252 620h1v1h-1zM294 621h1v1h-1zM295 620h1v1h-1zM296 619h1v1h-1zM297 618h1v1h-1zM298 617h1v1h-1zM299 616h1v1h-1zM300 615h1v1h-1zM310 611h1v1h-1zM311 610h1v1h-1zM312 609h1v1h-1zM313 607h1v2h-1zM314 606h1v1h-1zM315 605h1v1h-1zM316 604h1v1h-1zM317 603h1v1h-1zM320 601h1v1h-1zM325 598h1v1h-1zM326 599h1v1h-1zM329 601h1v1h-1zM330 602h1v1h-1zM438 612h1v1h-1zM439 611h1v1h-1zM440 610h1v1h-1zM441 608h1v2h-1zM442 607h1v1h-1zM443 606h1v1h-1zM444 605h1v1h-1zM462 610h1v1h-1zM465 612h1v1h-1zM466 613h1v1h-1zM469 615h1v1h-1zM470 614h1v1h-1zM471 613h1v1h-1zM472 612h1v1h-1zM473 610h1v2h-1zM474 609h1v1h-1zM475 608h1v1h-1zM476 607h1v1h-1zM502 607h1v1h-1zM503 608h1v1h-1zM504 609h1v1h-1zM505 610h1v1h-1zM506 611h1v1h-1zM507 612h1v1h-1zM508 613h1v1h-1zM518 613h1v1h-1zM519 612h1v1h-1zM520 611h1v1h-1zM521 610h1v1h-1zM522 609h1v1h-1zM523 608h1v1h-1zM524 607h1v1h-1zM552 605h1v1h-1zM616 600h1v1h-1zM680 611h1v1h-1zM685 614h1v1h-1zM710 607h1v1h-1zM711 608h1v1h-1zM712 609h1v1h-1zM713 610h1v2h-1zM714 612h1v1h-1zM715 613h1v1h-1zM716 614h1v1h-1zM757 621h1v1h-1zM758 619h1v2h-1zM759 617h1v2h-1zM760 615h1v2h-1zM761 613h1v2h-1zM762 611h1v2h-1zM763 609h1v2h-1zM764 607h1v2h-1zM765 605h1v2h-1zM806 608h1v1h-1zM807 607h1v1h-1zM808 606h1v1h-1zM811 604h1v1h-1zM812 603h1v1h-1zM846 607h1v1h-1zM849 609h1v1h-1zM850 610h1v1h-1zM853 612h1v1h-1zM856 614h1v1h-1zM902 618h1v1h-1zM903 617h1v1h-1zM904 616h1v1h-1zM905 614h1v2h-1zM906 613h1v1h-1zM907 612h1v1h-1zM908 611h1v1h-1zM984 601h1v1h-1zM1014 605h1v1h-1zM1017 607h1v1h-1zM1018 608h1v1h-1zM1030 607h1v1h-1zM1031 606h1v1h-1zM1032 605h1v1h-1zM1033 604h1v1h-1zM1034 603h1v1h-1zM1035 602h1v1h-1zM1036 601h1v1h-1zM1037 600h1v1h-1zM1126 602h1v1h-1zM1127 603h1v1h-1zM1128 604h1v1h-1zM1129 605h1v2h-1zM1130 607h1v1h-1zM1131 608h1v1h-1zM1132 609h1v1h-1zM1158 612h1v1h-1zM1161 614h1v1h-1zM1162 615h1v1h-1zM1214 624h1v1h-1zM1215 623h1v1h-1zM1216 622h1v1h-1zM1219 620h1v1h-1zM1220 619h1v1h-1zM1221 618h1v1h-1z" fill="#1e90ff" shape-rendering="crispEdges"/>
</g>
<text x="9" y="568" class="ax" fill="#000" textLength="68" lengthAdjust="spacingAndGlyphs" stroke="#000" stroke-width="0.22">RSI(14) 23.5662</text>
<g shape-rendering="crispEdges">
<rect x="1582" y="557" width="2" height="1" fill="#000"/>
<rect x="1582" y="650" width="2" height="1" fill="#000"/>
</g>
<text x="1586" y="566" class="ax" fill="#000" textLength="15" lengthAdjust="spacingAndGlyphs" stroke="#000" stroke-width="0.22">100</text>
<text x="1584" y="589" class="ax" fill="#000" textLength="10" lengthAdjust="spacingAndGlyphs" stroke="#000" stroke-width="0.22">70</text>
<text x="1584" y="626" class="ax" fill="#000" textLength="10" lengthAdjust="spacingAndGlyphs" stroke="#000" stroke-width="0.22">30</text>
<text x="1585" y="648" class="ax" fill="#000" textLength="5" lengthAdjust="spacingAndGlyphs" stroke="#000" stroke-width="0.22">0</text>
<g clip-path="url(#cMacd)" shape-rendering="crispEdges">
<rect x="5" y="671" width="1" height="12" fill="#c0c0c0"/>
<rect x="13" y="671" width="1" height="22" fill="#c0c0c0"/>
<rect x="21" y="671" width="1" height="29" fill="#c0c0c0"/>
<rect x="29" y="671" width="1" height="39" fill="#c0c0c0"/>
<rect x="37" y="671" width="1" height="42" fill="#c0c0c0"/>
<rect x="45" y="671" width="1" height="40" fill="#c0c0c0"/>
<rect x="53" y="671" width="1" height="37" fill="#c0c0c0"/>
<rect x="61" y="671" width="1" height="29" fill="#c0c0c0"/>
<rect x="69" y="671" width="1" height="26" fill="#c0c0c0"/>
<rect x="77" y="671" width="1" height="27" fill="#c0c0c0"/>
<rect x="85" y="671" width="1" height="26" fill="#c0c0c0"/>
<rect x="93" y="671" width="1" height="26" fill="#c0c0c0"/>
<rect x="101" y="671" width="1" height="25" fill="#c0c0c0"/>
<rect x="109" y="671" width="1" height="24" fill="#c0c0c0"/>
<rect x="117" y="671" width="1" height="23" fill="#c0c0c0"/>
<rect x="125" y="671" width="1" height="22" fill="#c0c0c0"/>
<rect x="133" y="671" width="1" height="24" fill="#c0c0c0"/>
<rect x="141" y="671" width="1" height="27" fill="#c0c0c0"/>
<rect x="149" y="671" width="1" height="28" fill="#c0c0c0"/>
<rect x="157" y="671" width="1" height="32" fill="#c0c0c0"/>
<rect x="165" y="671" width="1" height="34" fill="#c0c0c0"/>
<rect x="173" y="671" width="1" height="36" fill="#c0c0c0"/>
<rect x="181" y="671" width="1" height="38" fill="#c0c0c0"/>
<rect x="189" y="671" width="1" height="40" fill="#c0c0c0"/>
<rect x="197" y="671" width="1" height="46" fill="#c0c0c0"/>
<rect x="205" y="671" width="1" height="53" fill="#c0c0c0"/>
<rect x="213" y="671" width="1" height="61" fill="#c0c0c0"/>
<rect x="221" y="671" width="1" height="65" fill="#c0c0c0"/>
<rect x="229" y="671" width="1" height="68" fill="#c0c0c0"/>
<rect x="237" y="671" width="1" height="69" fill="#c0c0c0"/>
<rect x="245" y="671" width="1" height="73" fill="#c0c0c0"/>
<rect x="253" y="671" width="1" height="74" fill="#c0c0c0"/>
<rect x="261" y="671" width="1" height="73" fill="#c0c0c0"/>
<rect x="269" y="671" width="1" height="71" fill="#c0c0c0"/>
<rect x="277" y="671" width="1" height="71" fill="#c0c0c0"/>
<rect x="285" y="671" width="1" height="71" fill="#c0c0c0"/>
<rect x="293" y="671" width="1" height="68" fill="#c0c0c0"/>
<rect x="301" y="671" width="1" height="65" fill="#c0c0c0"/>
<rect x="309" y="671" width="1" height="61" fill="#c0c0c0"/>
<rect x="317" y="671" width="1" height="51" fill="#c0c0c0"/>
<rect x="325" y="671" width="1" height="39" fill="#c0c0c0"/>
<rect x="333" y="671" width="1" height="33" fill="#c0c0c0"/>
<rect x="341" y="671" width="1" height="30" fill="#c0c0c0"/>
<rect x="349" y="671" width="1" height="27" fill="#c0c0c0"/>
<rect x="357" y="671" width="1" height="22" fill="#c0c0c0"/>
<rect x="365" y="671" width="1" height="23" fill="#c0c0c0"/>
<rect x="373" y="671" width="1" height="26" fill="#c0c0c0"/>
<rect x="381" y="671" width="1" height="30" fill="#c0c0c0"/>
<rect x="389" y="671" width="1" height="33" fill="#c0c0c0"/>
<rect x="397" y="671" width="1" height="34" fill="#c0c0c0"/>
<rect x="405" y="671" width="1" height="35" fill="#c0c0c0"/>
<rect x="413" y="671" width="1" height="38" fill="#c0c0c0"/>
<rect x="421" y="671" width="1" height="38" fill="#c0c0c0"/>
<rect x="429" y="671" width="1" height="39" fill="#c0c0c0"/>
<rect x="437" y="671" width="1" height="39" fill="#c0c0c0"/>
<rect x="445" y="671" width="1" height="32" fill="#c0c0c0"/>
<rect x="453" y="671" width="1" height="29" fill="#c0c0c0"/>
<rect x="461" y="671" width="1" height="29" fill="#c0c0c0"/>
<rect x="469" y="671" width="1" height="33" fill="#c0c0c0"/>
<rect x="477" y="671" width="1" height="28" fill="#c0c0c0"/>
<rect x="485" y="671" width="1" height="28" fill="#c0c0c0"/>
<rect x="493" y="671" width="1" height="24" fill="#c0c0c0"/>
<rect x="501" y="671" width="1" height="22" fill="#c0c0c0"/>
<rect x="509" y="671" width="1" height="28" fill="#c0c0c0"/>
<rect x="517" y="671" width="1" height="32" fill="#c0c0c0"/>
<rect x="525" y="671" width="1" height="30" fill="#c0c0c0"/>
<rect x="533" y="671" width="1" height="26" fill="#c0c0c0"/>
<rect x="541" y="671" width="1" height="22" fill="#c0c0c0"/>
<rect x="549" y="671" width="1" height="20" fill="#c0c0c0"/>
<rect x="557" y="671" width="1" height="16" fill="#c0c0c0"/>
<rect x="565" y="671" width="1" height="9" fill="#c0c0c0"/>
<rect x="573" y="671" width="1" height="6" fill="#c0c0c0"/>
<rect x="581" y="671" width="1" height="2" fill="#c0c0c0"/>
<rect x="589" y="667" width="1" height="5" fill="#c0c0c0"/>
<rect x="597" y="663" width="1" height="9" fill="#c0c0c0"/>
<rect x="605" y="663" width="1" height="9" fill="#c0c0c0"/>
<rect x="613" y="660" width="1" height="12" fill="#c0c0c0"/>
<rect x="621" y="661" width="1" height="11" fill="#c0c0c0"/>
<rect x="629" y="663" width="1" height="9" fill="#c0c0c0"/>
<rect x="637" y="665" width="1" height="7" fill="#c0c0c0"/>
<rect x="645" y="670" width="1" height="2" fill="#c0c0c0"/>
<rect x="653" y="671" width="1" height="4" fill="#c0c0c0"/>
<rect x="661" y="671" width="1" height="9" fill="#c0c0c0"/>
<rect x="669" y="671" width="1" height="11" fill="#c0c0c0"/>
<rect x="677" y="671" width="1" height="12" fill="#c0c0c0"/>
<rect x="685" y="671" width="1" height="16" fill="#c0c0c0"/>
<rect x="693" y="671" width="1" height="18" fill="#c0c0c0"/>
<rect x="701" y="671" width="1" height="16" fill="#c0c0c0"/>
<rect x="709" y="671" width="1" height="14" fill="#c0c0c0"/>
<rect x="717" y="671" width="1" height="20" fill="#c0c0c0"/>
<rect x="725" y="671" width="1" height="23" fill="#c0c0c0"/>
<rect x="733" y="671" width="1" height="27" fill="#c0c0c0"/>
<rect x="741" y="671" width="1" height="29" fill="#c0c0c0"/>
<rect x="749" y="671" width="1" height="33" fill="#c0c0c0"/>
<rect x="757" y="671" width="1" height="39" fill="#c0c0c0"/>
<rect x="765" y="671" width="1" height="36" fill="#c0c0c0"/>
<rect x="773" y="671" width="1" height="27" fill="#c0c0c0"/>
<rect x="781" y="671" width="1" height="24" fill="#c0c0c0"/>
<rect x="789" y="671" width="1" height="24" fill="#c0c0c0"/>
<rect x="797" y="671" width="1" height="23" fill="#c0c0c0"/>
<rect x="805" y="671" width="1" height="23" fill="#c0c0c0"/>
<rect x="813" y="671" width="1" height="18" fill="#c0c0c0"/>
<rect x="821" y="671" width="1" height="16" fill="#c0c0c0"/>
<rect x="829" y="671" width="1" height="14" fill="#c0c0c0"/>
<rect x="837" y="671" width="1" height="14" fill="#c0c0c0"/>
<rect x="845" y="671" width="1" height="12" fill="#c0c0c0"/>
<rect x="853" y="671" width="1" height="16" fill="#c0c0c0"/>
<rect x="861" y="671" width="1" height="24" fill="#c0c0c0"/>
<rect x="869" y="671" width="1" height="32" fill="#c0c0c0"/>
<rect x="877" y="671" width="1" height="36" fill="#c0c0c0"/>
<rect x="885" y="671" width="1" height="41" fill="#c0c0c0"/>
<rect x="893" y="671" width="1" height="44" fill="#c0c0c0"/>
<rect x="901" y="671" width="1" height="48" fill="#c0c0c0"/>
<rect x="909" y="671" width="1" height="46" fill="#c0c0c0"/>
<rect x="917" y="671" width="1" height="44" fill="#c0c0c0"/>
<rect x="925" y="671" width="1" height="40" fill="#c0c0c0"/>
<rect x="933" y="671" width="1" height="36" fill="#c0c0c0"/>
<rect x="941" y="671" width="1" height="31" fill="#c0c0c0"/>
<rect x="949" y="671" width="1" height="24" fill="#c0c0c0"/>
<rect x="957" y="671" width="1" height="20" fill="#c0c0c0"/>
<rect x="965" y="671" width="1" height="15" fill="#c0c0c0"/>
<rect x="973" y="671" width="1" height="12" fill="#c0c0c0"/>
<rect x="981" y="671" width="1" height="7" fill="#c0c0c0"/>
<rect x="989" y="671" width="1" height="6" fill="#c0c0c0"/>
<rect x="997" y="671" width="1" height="6" fill="#c0c0c0"/>
<rect x="1005" y="671" width="1" height="7" fill="#c0c0c0"/>
<rect x="1013" y="671" width="1" height="7" fill="#c0c0c0"/>
<rect x="1021" y="671" width="1" height="10" fill="#c0c0c0"/>
<rect x="1029" y="671" width="1" height="10" fill="#c0c0c0"/>
<rect x="1037" y="671" width="1" height="6" fill="#c0c0c0"/>
<rect x="1045" y="671" width="1" height="5" fill="#c0c0c0"/>
<rect x="1053" y="671" width="1" height="6" fill="#c0c0c0"/>
<rect x="1061" y="671" width="1" height="7" fill="#c0c0c0"/>
<rect x="1069" y="671" width="1" height="8" fill="#c0c0c0"/>
<rect x="1077" y="671" width="1" height="8" fill="#c0c0c0"/>
<rect x="1085" y="671" width="1" height="9" fill="#c0c0c0"/>
<rect x="1093" y="671" width="1" height="10" fill="#c0c0c0"/>
<rect x="1101" y="671" width="1" height="12" fill="#c0c0c0"/>
<rect x="1109" y="671" width="1" height="14" fill="#c0c0c0"/>
<rect x="1117" y="671" width="1" height="12" fill="#c0c0c0"/>
<rect x="1125" y="671" width="1" height="9" fill="#c0c0c0"/>
<rect x="1133" y="671" width="1" height="10" fill="#c0c0c0"/>
<rect x="1141" y="671" width="1" height="14" fill="#c0c0c0"/>
<rect x="1149" y="671" width="1" height="15" fill="#c0c0c0"/>
<rect x="1157" y="671" width="1" height="16" fill="#c0c0c0"/>
<rect x="1165" y="671" width="1" height="22" fill="#c0c0c0"/>
<rect x="1173" y="671" width="1" height="28" fill="#c0c0c0"/>
<rect x="1181" y="671" width="1" height="34" fill="#c0c0c0"/>
<rect x="1189" y="671" width="1" height="42" fill="#c0c0c0"/>
<rect x="1197" y="671" width="1" height="48" fill="#c0c0c0"/>
<rect x="1205" y="671" width="1" height="53" fill="#c0c0c0"/>
<rect x="1213" y="671" width="1" height="56" fill="#c0c0c0"/>
<rect x="1221" y="671" width="1" height="55" fill="#c0c0c0"/>
<rect x="1229" y="671" width="1" height="58" fill="#c0c0c0"/>
<rect x="1237" y="671" width="1" height="64" fill="#c0c0c0"/>
<rect x="1245" y="671" width="1" height="71" fill="#c0c0c0"/>
</g>
<g clip-path="url(#cMacd)">
<path d="M653 664h2v1h-2zM635 665h3v1h-3zM641 665h3v1h-3zM647 665h2v1h-2zM659 666h3v1h-3zM629 667h2v1h-2zM665 667h2v1h-2zM623 668h3v1h-3zM5 669h3v1h-3zM671 669h3v1h-3zM11 670h3v1h-3zM617 670h3v1h-3zM677 670h2v1h-2zM17 671h2v1h-2zM612 672h2v1h-2zM684 673h2v1h-2zM606 675h2v1h-2zM690 676h2v1h-2zM1049 677h3v1h-3zM1055 677h3v1h-3zM1061 677h3v1h-3zM1067 677h3v1h-3zM1073 677h3v1h-3zM1079 677h2v1h-2zM30 678h2v1h-2zM600 678h2v1h-2zM695 678h3v1h-3zM1043 678h3v1h-3zM1085 678h3v1h-3zM1091 678h3v1h-3zM701 679h2v1h-2zM1025 679h3v1h-3zM1031 679h3v1h-3zM1037 679h3v1h-3zM1097 679h3v1h-3zM1103 679h3v1h-3zM1109 679h3v1h-3zM1019 680h3v1h-3zM1115 680h3v1h-3zM1121 680h3v1h-3zM1127 680h2v1h-2zM35 681h2v1h-2zM594 681h2v1h-2zM1133 681h3v1h-3zM1139 681h3v1h-3zM708 682h2v1h-2zM1013 682h2v1h-2zM1145 682h3v1h-3zM713 683h2v1h-2zM1151 683h3v1h-3zM588 684h2v1h-2zM1007 684h2v1h-2zM1157 684h3v1h-3zM719 685h3v1h-3zM1163 685h3v1h-3zM41 686h2v1h-2zM725 686h2v1h-2zM1001 686h3v1h-3zM1169 686h3v1h-3zM582 687h2v1h-2zM1175 687h3v1h-3zM996 688h2v1h-2zM732 689h2v1h-2zM851 689h3v1h-3zM1182 689h2v1h-2zM575 690h2v1h-2zM737 690h2v1h-2zM857 690h3v1h-3zM863 690h2v1h-2zM47 691h2v1h-2zM845 691h2v1h-2zM869 691h2v1h-2zM990 691h2v1h-2zM569 692h2v1h-2zM743 692h3v1h-3zM839 692h2v1h-2zM1188 692h2v1h-2zM563 693h3v1h-3zM749 693h2v1h-2zM833 693h2v1h-2zM875 693h3v1h-3zM828 694h2v1h-2zM881 694h2v1h-2zM984 694h2v1h-2zM137 695h3v1h-3zM143 695h2v1h-2zM557 695h2v1h-2zM1194 695h2v1h-2zM54 696h2v1h-2zM125 696h3v1h-3zM131 696h3v1h-3zM149 696h3v1h-3zM155 696h3v1h-3zM545 696h3v1h-3zM551 696h2v1h-2zM756 696h2v1h-2zM887 696h2v1h-2zM119 697h3v1h-3zM161 697h3v1h-3zM167 697h2v1h-2zM539 697h3v1h-3zM761 697h3v1h-3zM767 697h2v1h-2zM821 697h2v1h-2zM978 697h2v1h-2zM173 698h3v1h-3zM509 698h3v1h-3zM515 698h3v1h-3zM521 698h3v1h-3zM527 698h3v1h-3zM533 698h3v1h-3zM773 698h3v1h-3zM815 698h3v1h-3zM893 698h2v1h-2zM60 699h2v1h-2zM113 699h2v1h-2zM179 699h3v1h-3zM503 699h3v1h-3zM779 699h3v1h-3zM809 699h3v1h-3zM65 700h2v1h-2zM107 700h3v1h-3zM185 700h2v1h-2zM389 700h3v1h-3zM395 700h3v1h-3zM401 700h3v1h-3zM407 700h3v1h-3zM413 700h3v1h-3zM497 700h3v1h-3zM785 700h3v1h-3zM791 700h3v1h-3zM797 700h3v1h-3zM803 700h3v1h-3zM972 700h2v1h-2zM383 701h2v1h-2zM419 701h3v1h-3zM491 701h3v1h-3zM900 701h2v1h-2zM71 702h3v1h-3zM101 702h2v1h-2zM191 702h2v1h-2zM378 702h2v1h-2zM425 702h2v1h-2zM1206 702h2v1h-2zM77 703h3v1h-3zM83 703h3v1h-3zM89 703h3v1h-3zM95 703h2v1h-2zM485 703h2v1h-2zM905 703h3v1h-3zM966 703h2v1h-2zM197 704h2v1h-2zM431 704h3v1h-3zM473 704h3v1h-3zM479 704h2v1h-2zM372 705h2v1h-2zM437 705h3v1h-3zM449 705h3v1h-3zM455 705h3v1h-3zM461 705h3v1h-3zM467 705h3v1h-3zM1212 705h2v1h-2zM443 706h3v1h-3zM912 706h2v1h-2zM959 706h2v1h-2zM204 707h2v1h-2zM366 708h2v1h-2zM917 708h2v1h-2zM953 708h2v1h-2zM1217 708h2v1h-2zM947 709h3v1h-3zM210 710h2v1h-2zM923 710h3v1h-3zM929 711h3v1h-3zM935 711h3v1h-3zM941 711h2v1h-2zM216 713h2v1h-2zM222 716h2v1h-2zM353 716h2v1h-2zM1230 716h2v1h-2zM228 719h2v1h-2zM1236 719h2v1h-2zM347 720h2v1h-2zM234 722h2v1h-2zM1241 722h2v1h-2zM342 723h2v1h-2zM240 725h2v1h-2zM246 728h2v1h-2zM330 730h2v1h-2zM252 731h2v1h-2zM324 733h2v1h-2zM258 734h2v1h-2zM263 736h2v1h-2zM318 736h2v1h-2zM269 738h2v1h-2zM311 738h3v1h-3zM305 739h3v1h-3zM275 740h3v1h-3zM299 740h3v1h-3zM281 741h3v1h-3zM287 741h3v1h-3zM293 741h3v1h-3zM19 672h1v1h-1zM23 673h1v1h-1zM24 674h1v1h-1zM25 675h1v1h-1zM29 677h1v1h-1zM37 682h1v1h-1zM43 687h1v1h-1zM49 692h1v1h-1zM53 695h1v1h-1zM59 698h1v1h-1zM67 701h1v1h-1zM97 702h1v1h-1zM103 701h1v1h-1zM115 698h1v1h-1zM145 696h1v1h-1zM169 698h1v1h-1zM187 701h1v1h-1zM193 703h1v1h-1zM199 705h1v1h-1zM203 706h1v1h-1zM209 709h1v1h-1zM215 712h1v1h-1zM221 715h1v1h-1zM227 718h1v1h-1zM233 721h1v1h-1zM239 724h1v1h-1zM245 727h1v1h-1zM251 730h1v1h-1zM257 733h1v1h-1zM265 737h1v1h-1zM271 739h1v1h-1zM317 737h1v1h-1zM323 734h1v1h-1zM329 731h1v1h-1zM335 728h1v1h-1zM336 727h1v1h-1zM337 726h1v1h-1zM341 724h1v1h-1zM349 719h1v1h-1zM355 715h1v1h-1zM359 713h1v1h-1zM360 712h1v1h-1zM361 711h1v1h-1zM365 709h1v1h-1zM371 706h1v1h-1zM377 703h1v1h-1zM385 700h1v1h-1zM427 703h1v1h-1zM481 703h1v1h-1zM487 702h1v1h-1zM553 695h1v1h-1zM559 694h1v1h-1zM571 691h1v1h-1zM577 689h1v1h-1zM581 688h1v1h-1zM587 685h1v1h-1zM593 682h1v1h-1zM599 679h1v1h-1zM605 676h1v1h-1zM611 673h1v1h-1zM631 666h1v1h-1zM649 664h1v1h-1zM655 665h1v1h-1zM667 668h1v1h-1zM679 671h1v1h-1zM683 672h1v1h-1zM689 675h1v1h-1zM703 680h1v1h-1zM707 681h1v1h-1zM715 684h1v1h-1zM727 687h1v1h-1zM731 688h1v1h-1zM739 691h1v1h-1zM751 694h1v1h-1zM755 695h1v1h-1zM769 698h1v1h-1zM823 696h1v1h-1zM827 695h1v1h-1zM835 692h1v1h-1zM841 691h1v1h-1zM847 690h1v1h-1zM865 691h1v1h-1zM871 692h1v1h-1zM883 695h1v1h-1zM889 697h1v1h-1zM895 699h1v1h-1zM899 700h1v1h-1zM911 705h1v1h-1zM919 709h1v1h-1zM943 710h1v1h-1zM955 707h1v1h-1zM961 705h1v1h-1zM965 704h1v1h-1zM971 701h1v1h-1zM977 698h1v1h-1zM983 695h1v1h-1zM989 692h1v1h-1zM995 689h1v1h-1zM1009 683h1v1h-1zM1015 681h1v1h-1zM1081 678h1v1h-1zM1129 681h1v1h-1zM1181 688h1v1h-1zM1187 691h1v1h-1zM1193 694h1v1h-1zM1199 697h1v1h-1zM1200 698h1v1h-1zM1201 699h1v1h-1zM1205 701h1v1h-1zM1211 704h1v1h-1zM1219 709h1v1h-1zM1223 711h1v1h-1zM1224 712h1v1h-1zM1225 713h1v1h-1zM1229 715h1v1h-1zM1235 718h1v1h-1zM1243 723h1v1h-1z" fill="#ff0000" shape-rendering="crispEdges"/>
</g>
<text x="9" y="666" class="ax" fill="#000" textLength="154" lengthAdjust="spacingAndGlyphs" stroke="#000" stroke-width="0.22">MACD(12,26,9) -0.008733 -0.006613</text>
<g shape-rendering="crispEdges">
<rect x="1582" y="655" width="2" height="1" fill="#000"/>
<rect x="1582" y="671" width="2" height="1" fill="#000"/>
<rect x="1582" y="748" width="2" height="1" fill="#000"/>
</g>
<text x="1585" y="665" class="ax" fill="#000" textLength="38" lengthAdjust="spacingAndGlyphs" stroke="#000" stroke-width="0.22">0.001989</text>
<text x="1585" y="675" class="ax" fill="#000" textLength="19" lengthAdjust="spacingAndGlyphs" stroke="#000" stroke-width="0.22">0.00</text>
<text x="1585" y="746" class="ax" fill="#000" textLength="38" lengthAdjust="spacingAndGlyphs" stroke="#000" stroke-width="0.22">-0.009659</text>
<g shape-rendering="crispEdges">
<rect x="5" y="750" width="1" height="3" fill="#000"/>
<rect x="69" y="750" width="1" height="3" fill="#000"/>
<rect x="133" y="750" width="1" height="3" fill="#000"/>
<rect x="197" y="750" width="1" height="3" fill="#000"/>
<rect x="261" y="750" width="1" height="3" fill="#000"/>
<rect x="325" y="750" width="1" height="3" fill="#000"/>
<rect x="389" y="750" width="1" height="3" fill="#000"/>
<rect x="453" y="750" width="1" height="3" fill="#000"/>
<rect x="517" y="750" width="1" height="3" fill="#000"/>
<rect x="581" y="750" width="1" height="3" fill="#000"/>
<rect x="645" y="750" width="1" height="3" fill="#000"/>
<rect x="709" y="750" width="1" height="3" fill="#000"/>
<rect x="773" y="750" width="1" height="3" fill="#000"/>
<rect x="837" y="750" width="1" height="3" fill="#000"/>
<rect x="901" y="750" width="1" height="3" fill="#000"/>
<rect x="965" y="750" width="1" height="3" fill="#000"/>
<rect x="1029" y="750" width="1" height="3" fill="#000"/>
<rect x="1093" y="750" width="1" height="3" fill="#000"/>
<rect x="1157" y="750" width="1" height="3" fill="#000"/>
<rect x="1221" y="750" width="1" height="3" fill="#000"/>
</g>
<text x="4.1" y="762" class="ax" fill="#000" textLength="48.8" lengthAdjust="spacingAndGlyphs" stroke="#000" stroke-width="0.22">5 Nov 2020</text>
<text x="67.6" y="762" class="ax" fill="#000" textLength="54.3" lengthAdjust="spacingAndGlyphs" stroke="#000" stroke-width="0.22">14 Nov 2020</text>
<text x="131.6" y="762" class="ax" fill="#000" textLength="53.8" lengthAdjust="spacingAndGlyphs" stroke="#000" stroke-width="0.22">24 Nov 2020</text>
<text x="195.6" y="762" class="ax" fill="#000" textLength="47.8" lengthAdjust="spacingAndGlyphs" stroke="#000" stroke-width="0.22">3 Dec 2020</text>
<text x="260.2" y="762" class="ax" fill="#000" textLength="51.8" lengthAdjust="spacingAndGlyphs" stroke="#000" stroke-width="0.22">12 Dec 2020</text>
<text x="324.0" y="762" class="ax" fill="#000" textLength="52.1" lengthAdjust="spacingAndGlyphs" stroke="#000" stroke-width="0.22">22 Dec 2020</text>
<text x="388.1" y="762" class="ax" fill="#000" textLength="44.8" lengthAdjust="spacingAndGlyphs" stroke="#000" stroke-width="0.22">1 Jan 2021</text>
<text x="452.1" y="762" class="ax" fill="#000" textLength="49.3" lengthAdjust="spacingAndGlyphs" stroke="#000" stroke-width="0.22">12 Jan 2021</text>
<text x="515.4" y="762" class="ax" fill="#000" textLength="50.8" lengthAdjust="spacingAndGlyphs" stroke="#000" stroke-width="0.22">21 Jan 2021</text>
<text x="579.5" y="762" class="ax" fill="#000" textLength="50.4" lengthAdjust="spacingAndGlyphs" stroke="#000" stroke-width="0.22">30 Jan 2021</text>
<text x="643.5" y="762" class="ax" fill="#000" textLength="47.4" lengthAdjust="spacingAndGlyphs" stroke="#000" stroke-width="0.22">9 Feb 2021</text>
<text x="707.6" y="762" class="ax" fill="#000" textLength="52.4" lengthAdjust="spacingAndGlyphs" stroke="#000" stroke-width="0.22">18 Feb 2021</text>
<text x="771.6" y="762" class="ax" fill="#000" textLength="52.4" lengthAdjust="spacingAndGlyphs" stroke="#000" stroke-width="0.22">27 Feb 2021</text>
<text x="835.8" y="762" class="ax" fill="#000" textLength="46.8" lengthAdjust="spacingAndGlyphs" stroke="#000" stroke-width="0.22">9 Mar 2021</text>
<text x="900.2" y="762" class="ax" fill="#000" textLength="51.6" lengthAdjust="spacingAndGlyphs" stroke="#000" stroke-width="0.22">18 Mar 2021</text>
<text x="963.4" y="762" class="ax" fill="#000" textLength="52.4" lengthAdjust="spacingAndGlyphs" stroke="#000" stroke-width="0.22">27 Mar 2021</text>
<text x="1027.6" y="762" class="ax" fill="#000" textLength="46.4" lengthAdjust="spacingAndGlyphs" stroke="#000" stroke-width="0.22">6 Apr 2021</text>
<text x="1092.0" y="762" class="ax" fill="#000" textLength="50.8" lengthAdjust="spacingAndGlyphs" stroke="#000" stroke-width="0.22">15 Apr 2021</text>
<text x="1156.0" y="762" class="ax" fill="#000" textLength="50.8" lengthAdjust="spacingAndGlyphs" stroke="#000" stroke-width="0.22">24 Apr 2021</text>
<text x="1220.1" y="762" class="ax" fill="#000" textLength="49.8" lengthAdjust="spacingAndGlyphs" stroke="#000" stroke-width="0.22">4 May 2021</text>
<g shape-rendering="crispEdges">
<rect x="0" y="770" width="1623" height="1" fill="#e3e3e3"/>
<rect x="0" y="772" width="1623" height="1" fill="#000"/>
<rect x="0" y="773" width="1623" height="19" fill="#f0f0f0"/>
<rect x="0" y="792" width="1623" height="1" fill="#ffffff"/>
<rect x="0" y="793" width="1623" height="3" fill="#f0f0f0"/>
<rect x="0" y="796" width="1623" height="1" fill="#a0a0a0"/>
<rect x="0" y="797" width="1623" height="2" fill="#ffffff"/>
<rect x="0" y="773" width="1" height="18" fill="#a0a0a0"/>
<rect x="1" y="773" width="1" height="18" fill="#696969"/>
<rect x="314" y="771" width="104" height="20" fill="#ffffff"/>
<rect x="314" y="772" width="1" height="19" fill="#000"/>
<rect x="417" y="772" width="1" height="19" fill="#000"/>
<rect x="314" y="790" width="104" height="1" fill="#000"/>
<rect x="315" y="791" width="103" height="1" fill="#c8c8c8"/>
</g>
<text x="18" y="787" font-size="12.5" fill="#6d6d6d" textLength="80.0" lengthAdjust="spacingAndGlyphs">EURUSD,Daily</text>
<rect x="110" y="775" width="1" height="14" fill="#6d6d6d" shape-rendering="crispEdges"/>
<text x="120" y="787" font-size="12.5" fill="#6d6d6d" textLength="78.5" lengthAdjust="spacingAndGlyphs">USDCHF,Daily</text>
<rect x="210" y="775" width="1" height="14" fill="#6d6d6d" shape-rendering="crispEdges"/>
<text x="221" y="787" font-size="12.5" fill="#6d6d6d" textLength="82.0" lengthAdjust="spacingAndGlyphs">AUDUSD,Daily</text>
<text x="429" y="787" font-size="12.5" fill="#6d6d6d" textLength="82.0" lengthAdjust="spacingAndGlyphs">USDCNH,Daily</text>
<rect x="522" y="775" width="1" height="14" fill="#6d6d6d" shape-rendering="crispEdges"/>
<text x="534" y="787" font-size="12.5" fill="#6d6d6d" textLength="80.0" lengthAdjust="spacingAndGlyphs">EURUSD,Daily</text>
<rect x="626" y="775" width="1" height="14" fill="#6d6d6d" shape-rendering="crispEdges"/>
<text x="638" y="787" font-size="12.5" fill="#6d6d6d" textLength="80.0" lengthAdjust="spacingAndGlyphs">GBPUSD,Daily</text>
<rect x="730" y="775" width="1" height="14" fill="#6d6d6d" shape-rendering="crispEdges"/>
<text x="741" y="787" font-size="12.5" fill="#6d6d6d" textLength="69.0" lengthAdjust="spacingAndGlyphs">XAUUSD,H4</text>
<rect x="822" y="775" width="1" height="14" fill="#6d6d6d" shape-rendering="crispEdges"/>
<text x="834" y="787" font-size="12.5" fill="#6d6d6d" textLength="59.5" lengthAdjust="spacingAndGlyphs">HK50,M15</text>
<rect x="906" y="775" width="1" height="14" fill="#6d6d6d" shape-rendering="crispEdges"/>
<text x="918" y="787" font-size="12.5" fill="#6d6d6d" textLength="56.0" lengthAdjust="spacingAndGlyphs">UK100,H1</text>
<rect x="987" y="775" width="1" height="14" fill="#6d6d6d" shape-rendering="crispEdges"/>
<text x="998" y="787" font-size="12.5" fill="#6d6d6d" textLength="56.0" lengthAdjust="spacingAndGlyphs">UK100,H1</text>
<rect x="1067" y="775" width="1" height="14" fill="#6d6d6d" shape-rendering="crispEdges"/>
<text x="1077" y="787" font-size="12.5" fill="#6d6d6d" textLength="57.0" lengthAdjust="spacingAndGlyphs">GER30,H1</text>
<rect x="1147" y="775" width="1" height="14" fill="#6d6d6d" shape-rendering="crispEdges"/>
<text x="1157" y="787" font-size="12.5" fill="#6d6d6d" textLength="53.5" lengthAdjust="spacingAndGlyphs">FRA40,H1</text>
<rect x="1223" y="775" width="1" height="14" fill="#6d6d6d" shape-rendering="crispEdges"/>
<text x="1232" y="787" font-size="12.5" fill="#6d6d6d" textLength="50.0" lengthAdjust="spacingAndGlyphs">USOil,H1</text>
<rect x="1295" y="775" width="1" height="14" fill="#6d6d6d" shape-rendering="crispEdges"/>
<text x="1304" y="787" font-size="12.5" fill="#6d6d6d" textLength="63.0" lengthAdjust="spacingAndGlyphs">USDJPY,H1</text>
<rect x="1379" y="775" width="1" height="14" fill="#6d6d6d" shape-rendering="crispEdges"/>
<text x="1390" y="787" font-size="12.5" fill="#6d6d6d" textLength="72.0" lengthAdjust="spacingAndGlyphs">DJ30,Weekly</text>
<rect x="1475" y="775" width="1" height="14" fill="#6d6d6d" shape-rendering="crispEdges"/>
<text x="1484" y="787" font-size="12.5" fill="#6d6d6d" textLength="78.5" lengthAdjust="spacingAndGlyphs">CHINA300,H1</text>
<rect x="1574" y="775" width="1" height="14" fill="#6d6d6d" shape-rendering="crispEdges"/>
<text x="325" y="787" font-size="12.5" fill="#000" textLength="81" lengthAdjust="spacingAndGlyphs">USDCAD,Daily</text>
<svg x="1584" y="773" width="8" height="19" overflow="hidden"><text x="0" y="14" font-size="12.5" fill="#6d6d6d">U</text></svg>
<path d="M1600,778 L1600,785 L1596.5,781.5 Z" fill="#a0a0a0"/>
<path d="M1616,778 L1616,785 L1619.5,781.5 Z" fill="#000"/>
</svg></body></html>
